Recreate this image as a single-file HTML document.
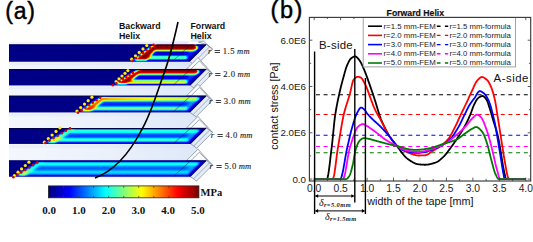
<!DOCTYPE html>
<html><head><meta charset="utf-8"><style>
html,body{margin:0;padding:0;background:#fff;width:533px;height:242px;overflow:hidden;}
svg{display:block;font-family:"Liberation Sans",sans-serif;}
</style></head><body>
<svg width="533" height="242" viewBox="0 0 533 242"><defs><linearGradient id="g0" gradientUnits="userSpaceOnUse" x1="0" y1="44.6" x2="0" y2="61.4"><stop offset="0" stop-color="#06067a"/><stop offset="0.06" stop-color="#06067a"/><stop offset="0.09" stop-color="#800000"/><stop offset="0.16" stop-color="#9a0000"/><stop offset="0.24" stop-color="#d00000"/><stop offset="0.29" stop-color="#ff6000"/><stop offset="0.33" stop-color="#ffe000"/><stop offset="0.37" stop-color="#40ffc0"/><stop offset="0.41" stop-color="#00a0ff"/><stop offset="0.47" stop-color="#0030f0"/><stop offset="0.55" stop-color="#0000a8"/><stop offset="0.61" stop-color="#0010c8"/><stop offset="0.66" stop-color="#0080ff"/><stop offset="0.7" stop-color="#30f0d0"/><stop offset="0.74" stop-color="#ffe000"/><stop offset="0.775" stop-color="#ff9000"/><stop offset="0.8" stop-color="#ffe000"/><stop offset="0.83" stop-color="#40e0ff"/><stop offset="0.86" stop-color="#0030d0"/><stop offset="0.9" stop-color="#06067a"/><stop offset="1" stop-color="#06067a"/></linearGradient>
<linearGradient id="g1" gradientUnits="userSpaceOnUse" x1="0" y1="69.1" x2="0" y2="85.3"><stop offset="0" stop-color="#06067a"/><stop offset="0.06" stop-color="#06067a"/><stop offset="0.09" stop-color="#900000"/><stop offset="0.14" stop-color="#d00000"/><stop offset="0.21" stop-color="#f02000"/><stop offset="0.25" stop-color="#ff7000"/><stop offset="0.28" stop-color="#ffe000"/><stop offset="0.33" stop-color="#40ffd0"/><stop offset="0.4" stop-color="#0070ff"/><stop offset="0.5" stop-color="#0028d0"/><stop offset="0.6" stop-color="#0030e0"/><stop offset="0.65" stop-color="#0080ff"/><stop offset="0.69" stop-color="#30f0d0"/><stop offset="0.75" stop-color="#ffe000"/><stop offset="0.8" stop-color="#ff8000"/><stop offset="0.83" stop-color="#ff3000"/><stop offset="0.86" stop-color="#c0a000"/><stop offset="0.89" stop-color="#0050e0"/><stop offset="0.93" stop-color="#06067a"/><stop offset="1" stop-color="#06067a"/></linearGradient>
<linearGradient id="g2" gradientUnits="userSpaceOnUse" x1="0" y1="95.8" x2="0" y2="112.3"><stop offset="0" stop-color="#06067a"/><stop offset="0.07" stop-color="#06067a"/><stop offset="0.1" stop-color="#1030c0"/><stop offset="0.13" stop-color="#f07000"/><stop offset="0.18" stop-color="#ffa000"/><stop offset="0.24" stop-color="#ffe000"/><stop offset="0.3" stop-color="#60ffa0"/><stop offset="0.36" stop-color="#00c0ff"/><stop offset="0.44" stop-color="#0050ff"/><stop offset="0.55" stop-color="#0040f0"/><stop offset="0.64" stop-color="#0070ff"/><stop offset="0.7" stop-color="#20e0e0"/><stop offset="0.76" stop-color="#d0ff30"/><stop offset="0.8" stop-color="#a0ff60"/><stop offset="0.85" stop-color="#00a0ff"/><stop offset="0.9" stop-color="#0010b0"/><stop offset="0.94" stop-color="#06067a"/><stop offset="1" stop-color="#06067a"/></linearGradient>
<linearGradient id="g3" gradientUnits="userSpaceOnUse" x1="0" y1="127.9" x2="0" y2="143.7"><stop offset="0" stop-color="#06067a"/><stop offset="0.08" stop-color="#06067a"/><stop offset="0.12" stop-color="#0040ff"/><stop offset="0.17" stop-color="#40ffc0"/><stop offset="0.21" stop-color="#a0ff60"/><stop offset="0.26" stop-color="#20e0f0"/><stop offset="0.33" stop-color="#0080ff"/><stop offset="0.45" stop-color="#0060ff"/><stop offset="0.58" stop-color="#0070ff"/><stop offset="0.66" stop-color="#00d0ff"/><stop offset="0.73" stop-color="#90ff70"/><stop offset="0.78" stop-color="#a0ff60"/><stop offset="0.84" stop-color="#00b0ff"/><stop offset="0.89" stop-color="#0020c0"/><stop offset="0.93" stop-color="#06067a"/><stop offset="1" stop-color="#06067a"/></linearGradient>
<linearGradient id="g4" gradientUnits="userSpaceOnUse" x1="0" y1="160.6" x2="0" y2="176.6"><stop offset="0" stop-color="#06067a"/><stop offset="0.06" stop-color="#06067a"/><stop offset="0.11" stop-color="#0040f0"/><stop offset="0.18" stop-color="#00e0ff"/><stop offset="0.24" stop-color="#00d0ff"/><stop offset="0.32" stop-color="#0098ff"/><stop offset="0.45" stop-color="#0070ff"/><stop offset="0.58" stop-color="#0078ff"/><stop offset="0.66" stop-color="#00d8ff"/><stop offset="0.72" stop-color="#00b0ff"/><stop offset="0.78" stop-color="#0040e0"/><stop offset="0.86" stop-color="#0a0a90"/><stop offset="0.92" stop-color="#06067a"/><stop offset="1" stop-color="#06067a"/></linearGradient>
<linearGradient id="jet" x1="0" y1="0" x2="1" y2="0"><stop offset="0" stop-color="#00007a"/><stop offset="0.14" stop-color="#0000ff"/><stop offset="0.38" stop-color="#00ffff"/><stop offset="0.62" stop-color="#ffff00"/><stop offset="0.86" stop-color="#ff0000"/><stop offset="1" stop-color="#7a0000"/></linearGradient>
<linearGradient id="fade" x1="0" y1="0" x2="1" y2="0"><stop offset="0" stop-color="#0010c0" stop-opacity="0"/><stop offset="0.5" stop-color="#0018d0" stop-opacity="0.8"/><stop offset="1" stop-color="#06067a" stop-opacity="1"/></linearGradient>
<linearGradient id="front" x1="0" y1="0" x2="1" y2="0"><stop offset="0" stop-color="#f4f7fd"/><stop offset="0.5" stop-color="#ebf1fb"/><stop offset="1" stop-color="#dde8f8"/></linearGradient>
<filter id="soft" x="-5%" y="-20%" width="110%" height="140%"><feGaussianBlur stdDeviation="0.45"/></filter>
<filter id="jetf" x="-2%" y="-10%" width="104%" height="120%" color-interpolation-filters="sRGB"><feGaussianBlur stdDeviation="1.1"/><feComponentTransfer><feFuncR type="table" tableValues="0 0 0 0 0.5 1 1 1 0.5"/><feFuncG type="table" tableValues="0 0 0.5 1 1 1 0.5 0 0"/><feFuncB type="table" tableValues="0.53 1 1 1 0.5 0 0 0 0"/></feComponentTransfer></filter></defs>
<rect x="0" y="0" width="533" height="242" fill="#ffffff"/>
<polygon points="9.0,41.4 207.1,41.4 198.0,34.1 186.5,44.6 9.0,44.6" fill="url(#front)"/>
<polygon points="9.0,61.4 196.3,61.4 198.0,58.6 186.5,69.1 9.0,69.1" fill="url(#front)"/>
<polygon points="9.0,85.3 196.9,85.3 198.0,85.3 186.5,95.8 9.0,95.8" fill="url(#front)"/>
<polygon points="9.0,112.3 196.6,112.3 198.0,117.4 186.5,127.9 9.0,127.9" fill="url(#front)"/>
<polygon points="9.0,143.7 197.3,143.7 198.0,150.1 186.5,160.6 9.0,160.6" fill="url(#front)"/>
<polygon points="9.0,176.6 195.1,176.6 195.1,178.2 9.0,178.2" fill="url(#front)"/>
<polygon points="9.0,62.6 190.9,62.6 194.3,65.6 9.0,65.6" fill="#d6e2f5" opacity="0.3"/>
<polygon points="9.0,86.5 191.5,86.5 194.9,89.5 9.0,89.5" fill="#d6e2f5" opacity="0.3"/>
<polygon points="9.0,113.5 191.2,113.5 194.6,116.5 9.0,116.5" fill="#d6e2f5" opacity="0.3"/>
<polygon points="9.0,144.9 191.9,144.9 195.3,147.9 9.0,147.9" fill="#d6e2f5" opacity="0.3"/>

<polygon points="198.5,42.0 203.5,41.2 212.5,49.1 206.5,44.6" fill="#fbfcfe" stroke="#76828f" stroke-width="0.7"/>
<polygon points="206.5,44.6 212.5,49.1 195.7,65.9 189.7,61.4" fill="#e4ecf7" stroke="#76828f" stroke-width="0.7"/>
<line x1="209.5" y1="46.9" x2="192.7" y2="63.7" stroke="#76828f" stroke-width="0.6"/>
<polygon points="9.0,44.6 206.5,44.6 189.7,61.4 9.0,61.4" fill="#020287"/>
<clipPath id="cp0"><polygon points="9,44.6 206.5,44.6 189.7,61.4 9,61.4"/></clipPath><g clip-path="url(#cp0)"><g filter="url(#jetf)"><rect x="5" y="40.6" width="208.5" height="24.8" fill="#000"/><polygon points="152.9,45.6 201.9,45.6 187.3,60.2 133.8,60.2" fill="rgb(38,38,38)"/><polygon points="155.0,51.4 188.7,51.4 184.3,55.8 149.3,55.8" fill="rgb(8,8,8)"/><polygon points="157.5,42.6 194.6,42.6 197.6,48.5 193.6,50.6 147.1,50.6" fill="rgb(255,255,255)"/><polygon points="139.5,56.4 186.1,56.4 187.3,57.5 186.1,58.6 136.6,58.6" fill="rgb(204,204,204)"/><polygon points="152.6,45.8 159.2,45.8 146.4,60.2 133.8,60.2" fill="rgb(255,255,255)"/></g><line x1="9" y1="45.10" x2="206.5" y2="45.10" stroke="#00004a" stroke-width="1.1"/></g>
<line x1="172.7" y1="61.1" x2="190.5" y2="44.9" stroke="#0a0a3a" stroke-width="0.6" opacity="0.75"/>
<polygon points="186.5,69.1 198.0,57.6 212.5,73.6 206.5,69.1" fill="#fbfcfe" stroke="#76828f" stroke-width="0.7"/>
<polyline points="191.0,69.1 199.3,60.8 208.0,69.6" fill="none" stroke="#76828f" stroke-width="0.7"/>
<polygon points="206.5,69.1 212.5,73.6 196.3,89.8 190.3,85.3" fill="#e4ecf7" stroke="#76828f" stroke-width="0.7"/>
<line x1="209.5" y1="71.4" x2="193.3" y2="87.6" stroke="#76828f" stroke-width="0.6"/>
<polygon points="9.0,69.1 206.5,69.1 190.3,85.3 9.0,85.3" fill="#020287"/>
<clipPath id="cp1"><polygon points="9,69.1 206.5,69.1 190.3,85.3 9,85.3"/></clipPath><g clip-path="url(#cp1)"><g filter="url(#jetf)"><rect x="5" y="65.1" width="208.5" height="24.2" fill="#000"/><polygon points="137.9,70.1 201.9,70.1 187.9,84.1 115.1,84.1" fill="rgb(43,43,43)"/><polygon points="138.8,75.5 189.1,75.5 184.7,79.9 131.6,79.9" fill="rgb(18,18,18)"/><polygon points="143.4,67.1 196.1,67.1 199.1,72.5 195.1,74.2 131.9,74.2" fill="rgb(247,247,247)"/><polygon points="121.4,80.6 186.2,80.6 187.4,81.9 186.2,83.1 117.3,83.1" fill="rgb(224,224,224)"/><polygon points="137.5,70.3 143.7,70.3 126.3,84.1 115.1,84.1" fill="rgb(250,250,250)"/></g><line x1="9" y1="69.60" x2="206.5" y2="69.60" stroke="#00004a" stroke-width="1.1"/></g>
<line x1="173.3" y1="85.0" x2="190.5" y2="69.4" stroke="#0a0a3a" stroke-width="0.6" opacity="0.75"/>
<polygon points="186.5,95.8 198.0,84.3 212.5,100.3 206.5,95.8" fill="#fbfcfe" stroke="#76828f" stroke-width="0.7"/>
<polyline points="191.0,95.8 199.3,87.5 208.0,96.3" fill="none" stroke="#76828f" stroke-width="0.7"/>
<polygon points="206.5,95.8 212.5,100.3 196.0,116.8 190.0,112.3" fill="#e4ecf7" stroke="#76828f" stroke-width="0.7"/>
<line x1="209.5" y1="98.1" x2="193.0" y2="114.6" stroke="#76828f" stroke-width="0.6"/>
<polygon points="9.0,95.8 206.5,95.8 190.0,112.3 9.0,112.3" fill="#020287"/>
<clipPath id="cp2"><polygon points="9,95.8 206.5,95.8 190.0,112.3 9,112.3"/></clipPath><g clip-path="url(#cp2)"><g filter="url(#jetf)"><rect x="5" y="91.8" width="208.5" height="24.5" fill="#000"/><polygon points="102.0,96.8 201.9,96.8 187.6,111.1 80.6,111.1" fill="rgb(66,66,66)"/><polygon points="103.2,101.8 189.5,101.8 184.2,107.1 95.3,107.1" fill="rgb(41,41,41)"/><linearGradient id="tg2" gradientUnits="userSpaceOnUse" x1="98.4" y1="0" x2="196.8" y2="0"><stop offset="0" stop-color="rgb(224,224,224)"/><stop offset="0.45" stop-color="rgb(199,199,199)"/><stop offset="1" stop-color="rgb(173,173,173)"/></linearGradient><polygon points="101.6,97.5 196.8,97.5 199.8,99.0 195.8,100.5 97.2,100.5" fill="url(#tg2)"/><polygon points="87.0,107.3 186.4,107.3 187.6,108.4 186.4,109.5 83.7,109.5" fill="rgb(158,158,158)"/><linearGradient id="dg2" gradientUnits="userSpaceOnUse" x1="0" y1="97.0" x2="0" y2="111.1"><stop offset="0" stop-color="rgb(204,204,204)"/><stop offset="0.55" stop-color="rgb(204,204,204)"/><stop offset="1" stop-color="rgb(235,235,235)"/></linearGradient><polygon points="101.7,97.0 107.7,97.0 90.6,111.1 80.6,111.1" fill="url(#dg2)"/></g><line x1="9" y1="96.30" x2="206.5" y2="96.30" stroke="#00004a" stroke-width="1.1"/></g>
<line x1="173.0" y1="112.0" x2="190.5" y2="96.1" stroke="#0a0a3a" stroke-width="0.6" opacity="0.75"/>
<polygon points="186.5,127.9 198.0,116.4 212.5,132.4 206.5,127.9" fill="#fbfcfe" stroke="#76828f" stroke-width="0.7"/>
<polyline points="191.0,127.9 199.3,119.6 208.0,128.4" fill="none" stroke="#76828f" stroke-width="0.7"/>
<polygon points="206.5,127.9 212.5,132.4 196.7,148.2 190.7,143.7" fill="#e4ecf7" stroke="#76828f" stroke-width="0.7"/>
<line x1="209.5" y1="130.2" x2="193.7" y2="146.0" stroke="#76828f" stroke-width="0.6"/>
<polygon points="9.0,127.9 206.5,127.9 190.7,143.7 9.0,143.7" fill="#020287"/>
<clipPath id="cp3"><polygon points="9,127.9 206.5,127.9 190.7,143.7 9,143.7"/></clipPath><g clip-path="url(#cp3)"><g filter="url(#jetf)"><rect x="5" y="123.9" width="208.5" height="23.8" fill="#000"/><polygon points="69.5,128.9 201.9,128.9 188.3,142.5 46.5,142.5" fill="rgb(69,69,69)"/><polygon points="70.1,133.7 189.7,133.7 184.9,138.5 62.0,138.5" fill="rgb(48,48,48)"/><polygon points="68.5,129.9 196.8,129.9 199.8,131.1 195.8,132.3 64.4,132.3" fill="rgb(138,138,138)"/><polygon points="53.5,138.8 187.0,138.8 188.2,139.9 187.0,141.0 49.8,141.0" fill="rgb(138,138,138)"/><linearGradient id="dg3" gradientUnits="userSpaceOnUse" x1="0" y1="129.1" x2="0" y2="142.5"><stop offset="0" stop-color="rgb(128,128,128)"/><stop offset="0.55" stop-color="rgb(128,128,128)"/><stop offset="1" stop-color="rgb(209,209,209)"/></linearGradient><polygon points="69.1,129.1 74.7,129.1 55.1,142.5 46.5,142.5" fill="url(#dg3)"/></g><line x1="9" y1="128.40" x2="206.5" y2="128.40" stroke="#00004a" stroke-width="1.1"/></g>
<line x1="173.7" y1="143.4" x2="190.5" y2="128.2" stroke="#0a0a3a" stroke-width="0.6" opacity="0.75"/>
<polygon points="186.5,160.6 198.0,149.1 212.5,165.1 206.5,160.6" fill="#fbfcfe" stroke="#76828f" stroke-width="0.7"/>
<polyline points="191.0,160.6 199.3,152.3 208.0,161.1" fill="none" stroke="#76828f" stroke-width="0.7"/>
<polygon points="206.5,160.6 212.5,165.1 196.5,181.1 190.5,176.6" fill="#e4ecf7" stroke="#76828f" stroke-width="0.7"/>
<line x1="209.5" y1="162.9" x2="193.5" y2="178.9" stroke="#76828f" stroke-width="0.6"/>
<polygon points="9.0,160.6 206.5,160.6 190.5,176.6 9.0,176.6" fill="#020287"/>
<clipPath id="cp4"><polygon points="9,160.6 206.5,160.6 190.5,176.6 9,176.6"/></clipPath><g clip-path="url(#cp4)"><g filter="url(#jetf)"><rect x="5" y="156.6" width="208.5" height="24.0" fill="#000"/><polygon points="39.1,161.6 201.9,161.6 188.1,175.4 16.8,175.4" fill="rgb(71,71,71)"/><polygon points="39.7,166.6 189.5,166.6 185.1,171.0 32.6,171.0" fill="rgb(54,54,54)"/><polygon points="38.2,162.6 196.7,162.6 199.7,163.9 195.7,165.2 34.0,165.2" fill="rgb(112,112,112)"/><polygon points="24.9,170.8 187.8,170.8 189.0,171.8 187.8,172.8 21.7,172.8" fill="rgb(102,102,102)"/><linearGradient id="dg4" gradientUnits="userSpaceOnUse" x1="0" y1="161.8" x2="0" y2="175.4"><stop offset="0" stop-color="rgb(107,107,107)"/><stop offset="0.55" stop-color="rgb(107,107,107)"/><stop offset="1" stop-color="rgb(178,178,178)"/></linearGradient><polygon points="38.8,161.8 44.4,161.8 25.4,175.4 16.8,175.4" fill="url(#dg4)"/></g><line x1="9" y1="161.10" x2="206.5" y2="161.10" stroke="#00004a" stroke-width="1.1"/></g>
<line x1="173.5" y1="176.3" x2="190.5" y2="160.9" stroke="#0a0a3a" stroke-width="0.6" opacity="0.75"/>
<circle cx="131.7" cy="59.2" r="1.6" fill="#ffee00"/>
<circle cx="135.5" cy="55.8" r="1.6" fill="#ffee00"/>
<circle cx="139.2" cy="52.4" r="1.6" fill="#ffee00"/>
<circle cx="143.0" cy="48.9" r="1.6" fill="#ffee00"/>
<circle cx="146.8" cy="45.5" r="1.6" fill="#ffee00"/>
<circle cx="132.6" cy="60.9" r="1.3" fill="#e00000"/>
<circle cx="136.1" cy="58.2" r="1.3" fill="#e00000"/>
<circle cx="139.6" cy="55.6" r="1.3" fill="#e00000"/>
<circle cx="143.1" cy="52.9" r="1.3" fill="#e00000"/>
<circle cx="146.5" cy="50.2" r="1.3" fill="#e00000"/>
<circle cx="150.0" cy="47.6" r="1.3" fill="#e00000"/>
<circle cx="153.5" cy="44.9" r="1.3" fill="#e00000"/>
<circle cx="116.1" cy="81.5" r="1.6" fill="#ffee00"/>
<circle cx="119.0" cy="78.8" r="1.6" fill="#ffee00"/>
<circle cx="122.0" cy="76.0" r="1.6" fill="#ffee00"/>
<circle cx="125.0" cy="73.3" r="1.6" fill="#ffee00"/>
<circle cx="127.9" cy="70.6" r="1.6" fill="#ffee00"/>
<circle cx="112.8" cy="85.3" r="1.3" fill="#e00000"/>
<circle cx="116.2" cy="83.2" r="1.3" fill="#e00000"/>
<circle cx="119.5" cy="81.2" r="1.3" fill="#e00000"/>
<circle cx="122.9" cy="79.1" r="1.3" fill="#e00000"/>
<circle cx="126.3" cy="77.0" r="1.3" fill="#e00000"/>
<circle cx="129.6" cy="75.0" r="1.3" fill="#e00000"/>
<circle cx="133.0" cy="72.9" r="1.3" fill="#e00000"/>
<circle cx="77.0" cy="111.0" r="1.6" fill="#ffee00"/>
<circle cx="80.7" cy="107.5" r="1.6" fill="#ffee00"/>
<circle cx="84.5" cy="104.1" r="1.6" fill="#ffee00"/>
<circle cx="88.2" cy="100.7" r="1.6" fill="#ffee00"/>
<circle cx="91.9" cy="97.2" r="1.6" fill="#ffee00"/>
<circle cx="77.9" cy="112.7" r="1.3" fill="#e00000"/>
<circle cx="81.6" cy="110.2" r="1.3" fill="#e00000"/>
<circle cx="85.3" cy="107.7" r="1.3" fill="#e00000"/>
<circle cx="89.1" cy="105.2" r="1.3" fill="#e00000"/>
<circle cx="92.8" cy="102.8" r="1.3" fill="#e00000"/>
<circle cx="96.5" cy="100.3" r="1.3" fill="#e00000"/>
<circle cx="100.2" cy="97.8" r="1.3" fill="#e00000"/>
<circle cx="44.4" cy="142.2" r="1.6" fill="#ffee00"/>
<circle cx="48.3" cy="138.6" r="1.6" fill="#ffee00"/>
<circle cx="52.1" cy="135.0" r="1.6" fill="#ffee00"/>
<circle cx="56.0" cy="131.4" r="1.6" fill="#ffee00"/>
<circle cx="59.9" cy="127.8" r="1.6" fill="#ffee00"/>
<circle cx="45.4" cy="143.0" r="1.3" fill="#e00000"/>
<circle cx="49.5" cy="140.6" r="1.3" fill="#e00000"/>
<circle cx="53.6" cy="138.1" r="1.3" fill="#e00000"/>
<circle cx="57.7" cy="135.7" r="1.3" fill="#e00000"/>
<circle cx="61.8" cy="133.3" r="1.3" fill="#e00000"/>
<circle cx="65.9" cy="130.8" r="1.3" fill="#e00000"/>
<circle cx="70.0" cy="128.4" r="1.3" fill="#e00000"/>
<circle cx="14.4" cy="175.6" r="1.6" fill="#ffee00"/>
<circle cx="18.0" cy="172.2" r="1.6" fill="#ffee00"/>
<circle cx="21.6" cy="168.9" r="1.6" fill="#ffee00"/>
<circle cx="25.3" cy="165.5" r="1.6" fill="#ffee00"/>
<circle cx="28.9" cy="162.2" r="1.6" fill="#ffee00"/>
<circle cx="13.4" cy="177.3" r="1.3" fill="#e00000"/>
<circle cx="17.4" cy="174.9" r="1.3" fill="#e00000"/>
<circle cx="21.3" cy="172.4" r="1.3" fill="#e00000"/>
<circle cx="25.3" cy="169.9" r="1.3" fill="#e00000"/>
<circle cx="29.3" cy="167.5" r="1.3" fill="#e00000"/>
<circle cx="33.2" cy="165.1" r="1.3" fill="#e00000"/>
<circle cx="37.2" cy="162.6" r="1.3" fill="#e00000"/>
<path d="M178,22 C174,40 170,58 163,76 C156,96 150,116 141,131 C130,152 116,170 95,178" fill="none" stroke="#000" stroke-width="1.6"/>
<text x="5.3" y="18.6" letter-spacing="0.8" font-family="Liberation Sans" font-size="23" fill="#000" stroke="#000" stroke-width="0.45">(a)</text>
<text x="270.6" y="17.7" letter-spacing="1.5" font-family="Liberation Sans" font-size="23.5" fill="#000" stroke="#000" stroke-width="0.45">(b)</text>
<text font-family="Liberation Sans" font-weight="bold" font-size="8.8" fill="#111"><tspan x="119" y="29.3">Backward</tspan><tspan x="119" y="39.1">Helix</tspan></text>
<text font-family="Liberation Sans" font-weight="bold" font-size="8.8" fill="#111"><tspan x="190.5" y="29.3">Forward</tspan><tspan x="190.5" y="39.1">Helix</tspan></text>
<g font-family="Liberation Serif" font-size="8.6" fill="#1e1e1e" stroke="#1e1e1e" stroke-width="0.12"><text x="207.9" y="54.4" font-style="italic">r</text><rect x="214.7" y="50" width="5.3" height="1" stroke="none" opacity="0.85"/><rect x="214.7" y="52" width="5.3" height="1" stroke="none" opacity="0.85"/><text x="222.7" y="54.4" letter-spacing="0.55">1.5</text><text x="237.1" y="54.4" font-style="italic" letter-spacing="0.1">mm</text></g>
<g font-family="Liberation Serif" font-size="8.6" fill="#1e1e1e" stroke="#1e1e1e" stroke-width="0.12"><text x="208.4" y="76.8" font-style="italic">r</text><rect x="215.2" y="73" width="5.3" height="1" stroke="none" opacity="0.85"/><rect x="215.2" y="75" width="5.3" height="1" stroke="none" opacity="0.85"/><text x="223.2" y="76.8" letter-spacing="0.55">2.0</text><text x="237.6" y="76.8" font-style="italic" letter-spacing="0.1">mm</text></g>
<g font-family="Liberation Serif" font-size="8.6" fill="#1e1e1e" stroke="#1e1e1e" stroke-width="0.12"><text x="209.0" y="103.8" font-style="italic">r</text><rect x="215.8" y="100" width="5.3" height="1" stroke="none" opacity="0.85"/><rect x="215.8" y="102" width="5.3" height="1" stroke="none" opacity="0.85"/><text x="223.8" y="103.8" letter-spacing="0.55">3.0</text><text x="238.2" y="103.8" font-style="italic" letter-spacing="0.1">mm</text></g>
<g font-family="Liberation Serif" font-size="8.6" fill="#1e1e1e" stroke="#1e1e1e" stroke-width="0.12"><text x="210.7" y="137.9" font-style="italic">r</text><rect x="217.5" y="134" width="5.3" height="1" stroke="none" opacity="0.85"/><rect x="217.5" y="136" width="5.3" height="1" stroke="none" opacity="0.85"/><text x="225.5" y="137.9" letter-spacing="0.55">4.0</text><text x="239.9" y="137.9" font-style="italic" letter-spacing="0.1">mm</text></g>
<g font-family="Liberation Serif" font-size="8.6" fill="#1e1e1e" stroke="#1e1e1e" stroke-width="0.12"><text x="209.6" y="169.2" font-style="italic">r</text><rect x="216.4" y="165" width="5.3" height="1" stroke="none" opacity="0.85"/><rect x="216.4" y="167" width="5.3" height="1" stroke="none" opacity="0.85"/><text x="224.4" y="169.2" letter-spacing="0.55">5.0</text><text x="238.8" y="169.2" font-style="italic" letter-spacing="0.1">mm</text></g>
<rect x="48.4" y="185.9" width="150.5" height="11.9" fill="url(#jet)" stroke="#222" stroke-width="0.8"/>
<line x1="63.5" y1="186" x2="63.5" y2="187.8" stroke="#333" stroke-width="0.7"/><line x1="63.5" y1="195.9" x2="63.5" y2="197.7" stroke="#333" stroke-width="0.7"/>
<line x1="78.5" y1="186" x2="78.5" y2="187.8" stroke="#333" stroke-width="0.7"/><line x1="78.5" y1="195.9" x2="78.5" y2="197.7" stroke="#333" stroke-width="0.7"/>
<line x1="93.6" y1="186" x2="93.6" y2="187.8" stroke="#333" stroke-width="0.7"/><line x1="93.6" y1="195.9" x2="93.6" y2="197.7" stroke="#333" stroke-width="0.7"/>
<line x1="108.6" y1="186" x2="108.6" y2="187.8" stroke="#333" stroke-width="0.7"/><line x1="108.6" y1="195.9" x2="108.6" y2="197.7" stroke="#333" stroke-width="0.7"/>
<line x1="123.7" y1="186" x2="123.7" y2="187.8" stroke="#333" stroke-width="0.7"/><line x1="123.7" y1="195.9" x2="123.7" y2="197.7" stroke="#333" stroke-width="0.7"/>
<line x1="138.7" y1="186" x2="138.7" y2="187.8" stroke="#333" stroke-width="0.7"/><line x1="138.7" y1="195.9" x2="138.7" y2="197.7" stroke="#333" stroke-width="0.7"/>
<line x1="153.8" y1="186" x2="153.8" y2="187.8" stroke="#333" stroke-width="0.7"/><line x1="153.8" y1="195.9" x2="153.8" y2="197.7" stroke="#333" stroke-width="0.7"/>
<line x1="168.8" y1="186" x2="168.8" y2="187.8" stroke="#333" stroke-width="0.7"/><line x1="168.8" y1="195.9" x2="168.8" y2="197.7" stroke="#333" stroke-width="0.7"/>
<line x1="183.9" y1="186" x2="183.9" y2="187.8" stroke="#333" stroke-width="0.7"/><line x1="183.9" y1="195.9" x2="183.9" y2="197.7" stroke="#333" stroke-width="0.7"/>
<text x="200.6" y="196" font-family="Liberation Serif" font-weight="bold" font-size="10.5" fill="#111">MPa</text>
<text x="49.1" y="214.3" text-anchor="middle" font-family="Liberation Serif" font-weight="bold" font-size="11" fill="#111">0.0</text>
<text x="78.8" y="214.3" text-anchor="middle" font-family="Liberation Serif" font-weight="bold" font-size="11" fill="#111">1.0</text>
<text x="108.6" y="214.3" text-anchor="middle" font-family="Liberation Serif" font-weight="bold" font-size="11" fill="#111">2.0</text>
<text x="138.3" y="214.3" text-anchor="middle" font-family="Liberation Serif" font-weight="bold" font-size="11" fill="#111">3.0</text>
<text x="168.1" y="214.3" text-anchor="middle" font-family="Liberation Serif" font-weight="bold" font-size="11" fill="#111">4.0</text>
<text x="197.8" y="214.3" text-anchor="middle" font-family="Liberation Serif" font-weight="bold" font-size="11" fill="#111">5.0</text>
<line x1="315.9" y1="94.7" x2="530.5" y2="94.7" stroke="#000000" stroke-width="1.1" stroke-dasharray="4 3.7"/>
<line x1="315.9" y1="114.5" x2="530.5" y2="114.5" stroke="#ff0000" stroke-width="1.1" stroke-dasharray="4 3.7"/>
<line x1="315.9" y1="135.3" x2="530.5" y2="135.3" stroke="#0000ff" stroke-width="1.1" stroke-dasharray="4 3.7"/>
<line x1="315.9" y1="146.5" x2="530.5" y2="146.5" stroke="#ff00ff" stroke-width="1.1" stroke-dasharray="4 3.7"/>
<line x1="315.9" y1="152.7" x2="530.5" y2="152.7" stroke="#007a00" stroke-width="1.1" stroke-dasharray="4 3.7"/>
<path d="M314.20,179.10 L314.55,179.10 L314.91,179.10 L315.26,179.10 L315.61,179.10 L315.97,179.10 L316.32,179.10 L316.67,179.10 L317.03,179.10 L317.38,179.10 L317.73,179.10 L318.09,179.10 L318.44,179.10 L318.79,179.10 L319.15,179.10 L319.50,179.10 L319.85,179.10 L320.21,179.10 L320.56,179.10 L320.91,179.10 L321.27,179.10 L321.62,179.10 L321.97,179.10 L322.32,179.10 L322.68,179.10 L323.03,179.10 L323.38,179.10 L323.74,179.10 L324.09,179.10 L324.44,179.10 L324.80,179.10 L325.15,179.10 L325.50,179.10 L325.86,179.10 L326.21,179.10 L326.56,179.10 L326.92,179.06 L327.27,178.57 L327.62,177.55 L327.98,176.08 L328.33,174.19 L328.68,171.97 L329.04,169.45 L329.39,166.71 L329.74,163.80 L330.10,160.78 L330.45,157.71 L330.80,154.64 L331.16,151.64 L331.51,148.77 L331.86,145.97 L332.22,142.88 L332.57,139.54 L332.92,136.02 L333.28,132.41 L333.63,128.81 L333.98,125.30 L334.34,121.96 L334.69,118.89 L335.04,116.17 L335.40,113.81 L335.75,111.60 L336.10,109.50 L336.46,107.51 L336.81,105.61 L337.16,103.80 L337.51,102.05 L337.87,100.35 L338.22,98.70 L338.57,97.08 L338.93,95.47 L339.28,93.86 L339.63,92.29 L339.99,90.75 L340.34,89.25 L340.69,87.78 L341.05,86.34 L341.40,84.94 L341.75,83.56 L342.11,82.21 L342.46,80.88 L342.81,79.57 L343.17,78.29 L343.52,77.00 L343.87,75.70 L344.23,74.40 L344.58,73.12 L344.93,71.86 L345.29,70.63 L345.64,69.45 L345.99,68.33 L346.35,67.28 L346.70,66.31 L347.05,65.44 L347.41,64.64 L347.76,63.86 L348.11,63.10 L348.47,62.37 L348.82,61.66 L349.17,61.00 L349.53,60.38 L349.88,59.81 L350.23,59.30 L350.59,58.86 L350.94,58.50 L351.29,58.21 L351.65,57.96 L352.00,57.71 L352.35,57.47 L352.70,57.25 L353.06,57.05 L353.41,56.87 L353.76,56.71 L354.12,56.59 L354.47,56.49 L354.82,56.43 L355.18,56.41 L355.53,56.44 L355.88,56.56 L356.24,56.75 L356.59,57.01 L356.94,57.32 L357.30,57.67 L357.65,58.05 L358.00,58.46 L358.36,58.89 L358.71,59.32 L359.06,59.76 L359.42,60.20 L359.77,60.70 L360.12,61.25 L360.48,61.86 L360.83,62.51 L361.18,63.20 L361.54,63.92 L361.89,64.67 L362.24,65.43 L362.60,66.21 L362.95,66.99 L363.30,67.77 L363.66,68.56 L364.01,69.37 L364.36,70.21 L364.72,71.08 L365.07,71.97 L365.42,72.88 L365.78,73.81 L366.13,74.75 L366.48,75.71 L366.84,76.68 L367.19,77.66 L367.54,78.65 L367.89,79.65 L368.25,80.65 L368.60,81.65 L368.95,82.65 L369.31,83.65 L369.66,84.64 L370.01,85.64 L370.37,86.64 L370.72,87.65 L371.07,88.67 L371.43,89.69 L371.78,90.73 L372.13,91.77 L372.49,92.82 L372.84,93.87 L373.19,94.92 L373.55,95.99 L373.90,97.05 L374.25,98.12 L374.61,99.20 L374.96,100.28 L375.31,101.39 L375.67,102.53 L376.02,103.69 L376.37,104.87 L376.73,106.07 L377.08,107.26 L377.43,108.46 L377.79,109.65 L378.14,110.83 L378.49,112.00 L378.85,113.14 L379.20,114.25 L379.55,115.33 L379.91,116.37 L380.26,117.36 L380.61,118.30 L380.97,119.18 L381.32,120.04 L381.67,120.89 L382.03,121.72 L382.38,122.53 L382.73,123.34 L383.08,124.12 L383.44,124.90 L383.79,125.66 L384.14,126.40 L384.50,127.13 L384.85,127.85 L385.20,128.56 L385.56,129.26 L385.91,129.94 L386.26,130.61 L386.62,131.27 L386.97,131.91 L387.32,132.55 L387.68,133.17 L388.03,133.79 L388.38,134.39 L388.74,134.98 L389.09,135.57 L389.44,136.14 L389.80,136.70 L390.15,137.26 L390.50,137.80 L390.86,138.32 L391.21,138.84 L391.56,139.34 L391.92,139.82 L392.27,140.30 L392.62,140.77 L392.98,141.22 L393.33,141.68 L393.68,142.12 L394.04,142.56 L394.39,143.00 L394.74,143.43 L395.10,143.86 L395.45,144.29 L395.80,144.73 L396.16,145.16 L396.51,145.60 L396.86,146.04 L397.22,146.48 L397.57,146.94 L397.92,147.40 L398.27,147.86 L398.63,148.33 L398.98,148.81 L399.33,149.28 L399.69,149.76 L400.04,150.24 L400.39,150.71 L400.75,151.19 L401.10,151.66 L401.45,152.13 L401.81,152.60 L402.16,153.06 L402.51,153.51 L402.87,153.96 L403.22,154.40 L403.57,154.83 L403.93,155.25 L404.28,155.66 L404.63,156.05 L404.99,156.44 L405.34,156.81 L405.69,157.16 L406.05,157.50 L406.40,157.83 L406.75,158.13 L407.11,158.42 L407.46,158.69 L407.81,158.94 L408.17,159.20 L408.52,159.45 L408.87,159.70 L409.23,159.95 L409.58,160.20 L409.93,160.44 L410.29,160.68 L410.64,160.92 L410.99,161.15 L411.35,161.38 L411.70,161.60 L412.05,161.82 L412.41,162.03 L412.76,162.24 L413.11,162.44 L413.46,162.63 L413.82,162.81 L414.17,162.99 L414.52,163.16 L414.88,163.31 L415.23,163.46 L415.58,163.60 L415.94,163.73 L416.29,163.85 L416.64,163.95 L417.00,164.05 L417.35,164.13 L417.70,164.20 L418.06,164.25 L418.41,164.30 L418.76,164.33 L419.12,164.37 L419.47,164.41 L419.82,164.44 L420.18,164.48 L420.53,164.51 L420.88,164.54 L421.24,164.57 L421.59,164.60 L421.94,164.62 L422.30,164.65 L422.65,164.67 L423.00,164.69 L423.36,164.70 L423.71,164.72 L424.06,164.73 L424.42,164.74 L424.77,164.74 L425.12,164.75 L425.48,164.75 L425.83,164.74 L426.18,164.72 L426.54,164.70 L426.89,164.68 L427.24,164.64 L427.59,164.60 L427.95,164.56 L428.30,164.50 L428.65,164.45 L429.01,164.39 L429.36,164.32 L429.71,164.25 L430.07,164.17 L430.42,164.09 L430.77,164.00 L431.13,163.91 L431.48,163.82 L431.83,163.72 L432.19,163.62 L432.54,163.52 L432.89,163.41 L433.25,163.31 L433.60,163.19 L433.95,163.08 L434.31,162.96 L434.66,162.85 L435.01,162.73 L435.37,162.61 L435.72,162.48 L436.07,162.36 L436.43,162.21 L436.78,162.05 L437.13,161.87 L437.49,161.68 L437.84,161.47 L438.19,161.24 L438.55,161.00 L438.90,160.75 L439.25,160.48 L439.61,160.21 L439.96,159.92 L440.31,159.63 L440.67,159.32 L441.02,159.01 L441.37,158.70 L441.73,158.37 L442.08,158.05 L442.43,157.72 L442.78,157.38 L443.14,157.05 L443.49,156.71 L443.84,156.38 L444.20,156.03 L444.55,155.66 L444.90,155.27 L445.26,154.86 L445.61,154.45 L445.96,154.02 L446.32,153.57 L446.67,153.12 L447.02,152.66 L447.38,152.20 L447.73,151.73 L448.08,151.27 L448.44,150.80 L448.79,150.33 L449.14,149.87 L449.50,149.40 L449.85,148.94 L450.20,148.47 L450.56,147.99 L450.91,147.51 L451.26,147.03 L451.62,146.55 L451.97,146.06 L452.32,145.57 L452.68,145.07 L453.03,144.57 L453.38,144.07 L453.74,143.57 L454.09,143.06 L454.44,142.55 L454.80,142.03 L455.15,141.52 L455.50,141.00 L455.86,140.48 L456.21,139.95 L456.56,139.42 L456.92,138.89 L457.27,138.36 L457.62,137.83 L457.97,137.30 L458.33,136.77 L458.68,136.23 L459.03,135.69 L459.39,135.15 L459.74,134.61 L460.09,134.06 L460.45,133.50 L460.80,132.94 L461.15,132.38 L461.51,131.80 L461.86,131.23 L462.21,130.64 L462.57,130.05 L462.92,129.44 L463.27,128.84 L463.63,128.22 L463.98,127.59 L464.33,126.95 L464.69,126.30 L465.04,125.65 L465.39,124.98 L465.75,124.30 L466.10,123.62 L466.45,122.92 L466.81,122.22 L467.16,121.50 L467.51,120.77 L467.87,120.03 L468.22,119.28 L468.57,118.52 L468.93,117.75 L469.28,116.97 L469.63,116.17 L469.99,115.37 L470.34,114.55 L470.69,113.67 L471.05,112.73 L471.40,111.76 L471.75,110.76 L472.11,109.75 L472.46,108.75 L472.81,107.78 L473.16,106.85 L473.52,105.99 L473.87,105.20 L474.22,104.48 L474.58,103.76 L474.93,103.05 L475.28,102.35 L475.64,101.67 L475.99,101.02 L476.34,100.41 L476.70,99.84 L477.05,99.32 L477.40,98.86 L477.76,98.46 L478.11,98.14 L478.46,97.87 L478.82,97.61 L479.17,97.35 L479.52,97.11 L479.88,96.88 L480.23,96.67 L480.58,96.49 L480.94,96.33 L481.29,96.19 L481.64,96.09 L482.00,96.02 L482.35,95.99 L482.70,96.02 L483.06,96.11 L483.41,96.28 L483.76,96.51 L484.12,96.79 L484.47,97.13 L484.82,97.51 L485.18,97.92 L485.53,98.37 L485.88,98.84 L486.24,99.33 L486.59,99.83 L486.94,100.41 L487.30,101.17 L487.65,102.07 L488.00,103.08 L488.35,104.16 L488.71,105.27 L489.06,106.38 L489.41,107.45 L489.77,108.55 L490.12,109.69 L490.47,110.86 L490.83,112.06 L491.18,113.29 L491.53,114.52 L491.89,115.76 L492.24,116.99 L492.59,118.21 L492.95,119.42 L493.30,120.60 L493.65,121.74 L494.01,122.85 L494.36,123.96 L494.71,125.05 L495.07,126.15 L495.42,127.26 L495.77,128.39 L496.13,129.55 L496.48,130.75 L496.83,132.00 L497.19,133.30 L497.54,134.67 L497.89,136.12 L498.25,137.71 L498.60,139.44 L498.95,141.29 L499.31,143.24 L499.66,145.28 L500.01,147.39 L500.37,149.56 L500.72,151.76 L501.07,153.98 L501.43,156.21 L501.78,158.42 L502.13,160.61 L502.49,162.74 L502.84,164.82 L503.19,166.81 L503.54,168.70 L503.90,170.48 L504.25,172.13 L504.60,173.63 L504.96,175.14 L505.31,176.72 L505.66,178.08 L506.02,178.94 L506.37,179.10 L506.72,179.10 L507.08,179.10 L507.43,179.10 L507.78,179.10 L508.14,179.10 L508.49,179.10 L508.84,179.10 L509.20,179.10 L509.55,179.10 L509.90,179.10 L510.26,179.10 L510.61,179.10 L510.96,179.10 L511.32,179.10 L511.67,179.10 L512.02,179.10 L512.38,179.10 L512.73,179.10 L513.08,179.10 L513.44,179.10 L513.79,179.10 L514.14,179.10 L514.50,179.10 L514.85,179.10 L515.20,179.10 L515.56,179.10 L515.91,179.10 L516.26,179.10 L516.62,179.10 L516.97,179.10 L517.32,179.10 L517.68,179.10 L518.03,179.10 L518.38,179.10 L518.73,179.10 L519.09,179.10 L519.44,179.10 L519.79,179.10 L520.15,179.10 L520.50,179.10 L520.85,179.10 L521.21,179.10 L521.56,179.10 L521.91,179.10 L522.27,179.10 L522.62,179.10 L522.97,179.10 L523.33,179.10 L523.68,179.10 L524.03,179.10 L524.39,179.10 L524.74,179.10 L525.09,179.10 L525.45,179.10 L525.80,179.10" fill="none" stroke="#000000" stroke-width="1.8" stroke-linejoin="round"/>
<path d="M314.20,179.10 L314.55,179.10 L314.91,179.10 L315.26,179.10 L315.61,179.10 L315.97,179.10 L316.32,179.10 L316.67,179.10 L317.03,179.10 L317.38,179.10 L317.73,179.10 L318.09,179.10 L318.44,179.10 L318.79,179.10 L319.15,179.10 L319.50,179.10 L319.85,179.10 L320.21,179.10 L320.56,179.10 L320.91,179.10 L321.27,179.10 L321.62,179.10 L321.97,179.10 L322.32,179.10 L322.68,179.10 L323.03,179.10 L323.38,179.10 L323.74,179.10 L324.09,179.10 L324.44,179.10 L324.80,179.10 L325.15,179.10 L325.50,179.10 L325.86,179.10 L326.21,179.10 L326.56,179.10 L326.92,179.10 L327.27,179.10 L327.62,179.10 L327.98,179.10 L328.33,179.10 L328.68,179.10 L329.04,179.10 L329.39,179.10 L329.74,179.10 L330.10,179.10 L330.45,179.10 L330.80,179.10 L331.16,179.10 L331.51,179.10 L331.86,179.10 L332.22,179.10 L332.57,179.10 L332.92,178.95 L333.28,178.29 L333.63,177.17 L333.98,175.63 L334.34,173.75 L334.69,171.56 L335.04,169.14 L335.40,166.54 L335.75,163.81 L336.10,161.02 L336.46,158.23 L336.81,155.48 L337.16,152.84 L337.51,150.36 L337.87,148.11 L338.22,146.04 L338.57,143.93 L338.93,141.79 L339.28,139.62 L339.63,137.45 L339.99,135.27 L340.34,133.10 L340.69,130.95 L341.05,128.83 L341.40,126.74 L341.75,124.71 L342.11,122.73 L342.46,120.82 L342.81,118.99 L343.17,117.25 L343.52,115.61 L343.87,114.07 L344.23,112.63 L344.58,111.26 L344.93,109.95 L345.29,108.70 L345.64,107.50 L345.99,106.33 L346.35,105.20 L346.70,104.10 L347.05,103.01 L347.41,101.92 L347.76,100.84 L348.11,99.75 L348.47,98.64 L348.82,97.51 L349.17,96.35 L349.53,95.15 L349.88,93.90 L350.23,92.50 L350.59,90.99 L350.94,89.39 L351.29,87.77 L351.65,86.17 L352.00,84.63 L352.35,83.20 L352.70,81.93 L353.06,80.85 L353.41,80.03 L353.76,79.50 L354.12,79.10 L354.47,78.72 L354.82,78.36 L355.18,78.03 L355.53,77.73 L355.88,77.47 L356.24,77.24 L356.59,77.05 L356.94,76.91 L357.30,76.82 L357.65,76.78 L358.00,76.79 L358.36,76.82 L358.71,76.88 L359.06,76.96 L359.42,77.05 L359.77,77.17 L360.12,77.29 L360.48,77.43 L360.83,77.59 L361.18,77.84 L361.54,78.17 L361.89,78.58 L362.24,79.05 L362.60,79.58 L362.95,80.17 L363.30,80.79 L363.66,81.45 L364.01,82.13 L364.36,82.82 L364.72,83.52 L365.07,84.22 L365.42,84.91 L365.78,85.62 L366.13,86.39 L366.48,87.21 L366.84,88.07 L367.19,88.97 L367.54,89.91 L367.89,90.87 L368.25,91.85 L368.60,92.85 L368.95,93.85 L369.31,94.86 L369.66,95.86 L370.01,96.85 L370.37,97.83 L370.72,98.78 L371.07,99.71 L371.43,100.64 L371.78,101.58 L372.13,102.52 L372.49,103.47 L372.84,104.41 L373.19,105.33 L373.55,106.23 L373.90,107.10 L374.25,107.93 L374.61,108.71 L374.96,109.46 L375.31,110.19 L375.67,110.90 L376.02,111.60 L376.37,112.27 L376.73,112.93 L377.08,113.58 L377.43,114.22 L377.79,114.85 L378.14,115.47 L378.49,116.09 L378.85,116.70 L379.20,117.31 L379.55,117.92 L379.91,118.54 L380.26,119.16 L380.61,119.79 L380.97,120.42 L381.32,121.07 L381.67,121.73 L382.03,122.39 L382.38,123.07 L382.73,123.75 L383.08,124.44 L383.44,125.14 L383.79,125.83 L384.14,126.53 L384.50,127.23 L384.85,127.93 L385.20,128.62 L385.56,129.31 L385.91,129.99 L386.26,130.67 L386.62,131.34 L386.97,132.00 L387.32,132.65 L387.68,133.28 L388.03,133.90 L388.38,134.51 L388.74,135.10 L389.09,135.67 L389.44,136.22 L389.80,136.75 L390.15,137.25 L390.50,137.75 L390.86,138.24 L391.21,138.72 L391.56,139.20 L391.92,139.67 L392.27,140.14 L392.62,140.60 L392.98,141.05 L393.33,141.50 L393.68,141.94 L394.04,142.37 L394.39,142.79 L394.74,143.20 L395.10,143.60 L395.45,143.99 L395.80,144.37 L396.16,144.74 L396.51,145.10 L396.86,145.45 L397.22,145.78 L397.57,146.10 L397.92,146.41 L398.27,146.71 L398.63,146.99 L398.98,147.26 L399.33,147.52 L399.69,147.78 L400.04,148.03 L400.39,148.28 L400.75,148.53 L401.10,148.77 L401.45,149.00 L401.81,149.23 L402.16,149.46 L402.51,149.68 L402.87,149.90 L403.22,150.11 L403.57,150.32 L403.93,150.52 L404.28,150.72 L404.63,150.92 L404.99,151.11 L405.34,151.30 L405.69,151.48 L406.05,151.65 L406.40,151.83 L406.75,152.00 L407.11,152.16 L407.46,152.32 L407.81,152.47 L408.17,152.62 L408.52,152.77 L408.87,152.91 L409.23,153.05 L409.58,153.18 L409.93,153.31 L410.29,153.43 L410.64,153.55 L410.99,153.68 L411.35,153.80 L411.70,153.93 L412.05,154.05 L412.41,154.18 L412.76,154.30 L413.11,154.42 L413.46,154.54 L413.82,154.66 L414.17,154.77 L414.52,154.87 L414.88,154.97 L415.23,155.06 L415.58,155.15 L415.94,155.22 L416.29,155.29 L416.64,155.35 L417.00,155.40 L417.35,155.44 L417.70,155.47 L418.06,155.48 L418.41,155.49 L418.76,155.49 L419.12,155.48 L419.47,155.48 L419.82,155.48 L420.18,155.47 L420.53,155.46 L420.88,155.45 L421.24,155.44 L421.59,155.43 L421.94,155.42 L422.30,155.41 L422.65,155.39 L423.00,155.38 L423.36,155.36 L423.71,155.35 L424.06,155.33 L424.42,155.31 L424.77,155.29 L425.12,155.27 L425.48,155.24 L425.83,155.18 L426.18,155.09 L426.54,154.97 L426.89,154.83 L427.24,154.66 L427.59,154.47 L427.95,154.26 L428.30,154.04 L428.65,153.80 L429.01,153.56 L429.36,153.30 L429.71,153.04 L430.07,152.78 L430.42,152.52 L430.77,152.26 L431.13,152.01 L431.48,151.76 L431.83,151.53 L432.19,151.31 L432.54,151.09 L432.89,150.88 L433.25,150.67 L433.60,150.46 L433.95,150.25 L434.31,150.04 L434.66,149.83 L435.01,149.62 L435.37,149.40 L435.72,149.19 L436.07,148.97 L436.43,148.76 L436.78,148.54 L437.13,148.32 L437.49,148.09 L437.84,147.86 L438.19,147.63 L438.55,147.40 L438.90,147.16 L439.25,146.92 L439.61,146.67 L439.96,146.42 L440.31,146.17 L440.67,145.91 L441.02,145.64 L441.37,145.37 L441.73,145.10 L442.08,144.82 L442.43,144.54 L442.78,144.26 L443.14,143.97 L443.49,143.68 L443.84,143.39 L444.20,143.09 L444.55,142.78 L444.90,142.46 L445.26,142.13 L445.61,141.80 L445.96,141.46 L446.32,141.11 L446.67,140.74 L447.02,140.37 L447.38,139.98 L447.73,139.58 L448.08,139.17 L448.44,138.75 L448.79,138.30 L449.14,137.82 L449.50,137.31 L449.85,136.77 L450.20,136.21 L450.56,135.61 L450.91,135.00 L451.26,134.37 L451.62,133.71 L451.97,133.05 L452.32,132.37 L452.68,131.68 L453.03,130.98 L453.38,130.28 L453.74,129.58 L454.09,128.87 L454.44,128.17 L454.80,127.48 L455.15,126.78 L455.50,126.07 L455.86,125.34 L456.21,124.60 L456.56,123.85 L456.92,123.09 L457.27,122.32 L457.62,121.55 L457.97,120.77 L458.33,119.98 L458.68,119.20 L459.03,118.42 L459.39,117.64 L459.74,116.87 L460.09,116.10 L460.45,115.35 L460.80,114.60 L461.15,113.86 L461.51,113.13 L461.86,112.40 L462.21,111.68 L462.57,110.96 L462.92,110.24 L463.27,109.53 L463.63,108.81 L463.98,108.09 L464.33,107.37 L464.69,106.65 L465.04,105.92 L465.39,105.18 L465.75,104.45 L466.10,103.70 L466.45,102.94 L466.81,102.18 L467.16,101.41 L467.51,100.63 L467.87,99.84 L468.22,99.06 L468.57,98.26 L468.93,97.47 L469.28,96.68 L469.63,95.89 L469.99,95.11 L470.34,94.32 L470.69,93.55 L471.05,92.78 L471.40,92.02 L471.75,91.26 L472.11,90.52 L472.46,89.79 L472.81,89.05 L473.16,88.28 L473.52,87.49 L473.87,86.71 L474.22,85.92 L474.58,85.15 L474.93,84.40 L475.28,83.68 L475.64,83.00 L475.99,82.36 L476.34,81.78 L476.70,81.25 L477.05,80.80 L477.40,80.41 L477.76,80.01 L478.11,79.62 L478.46,79.24 L478.82,78.87 L479.17,78.52 L479.52,78.19 L479.88,77.89 L480.23,77.63 L480.58,77.40 L480.94,77.23 L481.29,77.10 L481.64,77.02 L482.00,77.01 L482.35,77.04 L482.70,77.11 L483.06,77.22 L483.41,77.35 L483.76,77.51 L484.12,77.70 L484.47,77.92 L484.82,78.15 L485.18,78.40 L485.53,78.66 L485.88,78.93 L486.24,79.22 L486.59,79.50 L486.94,79.81 L487.30,80.18 L487.65,80.61 L488.00,81.08 L488.35,81.61 L488.71,82.19 L489.06,82.80 L489.41,83.46 L489.77,84.14 L490.12,84.86 L490.47,85.61 L490.83,86.37 L491.18,87.18 L491.53,88.06 L491.89,89.01 L492.24,90.04 L492.59,91.14 L492.95,92.30 L493.30,93.53 L493.65,94.83 L494.01,96.19 L494.36,97.61 L494.71,99.09 L495.07,100.67 L495.42,102.46 L495.77,104.44 L496.13,106.58 L496.48,108.82 L496.83,111.13 L497.19,113.47 L497.54,115.80 L497.89,118.07 L498.25,120.27 L498.60,122.48 L498.95,124.72 L499.31,126.96 L499.66,129.21 L500.01,131.45 L500.37,133.69 L500.72,135.93 L501.07,138.21 L501.43,140.52 L501.78,142.83 L502.13,145.14 L502.49,147.45 L502.84,149.73 L503.19,151.97 L503.54,154.17 L503.90,156.32 L504.25,158.39 L504.60,160.39 L504.96,162.35 L505.31,164.37 L505.66,166.39 L506.02,168.39 L506.37,170.31 L506.72,172.13 L507.08,173.82 L507.43,175.32 L507.78,176.60 L508.14,177.64 L508.49,178.59 L508.84,179.10 L509.20,179.10 L509.55,179.10 L509.90,179.10 L510.26,179.10 L510.61,179.10 L510.96,179.10 L511.32,179.10 L511.67,179.10 L512.02,179.10 L512.38,179.10 L512.73,179.10 L513.08,179.10 L513.44,179.10 L513.79,179.10 L514.14,179.10 L514.50,179.10 L514.85,179.10 L515.20,179.10 L515.56,179.10 L515.91,179.10 L516.26,179.10 L516.62,179.10 L516.97,179.10 L517.32,179.10 L517.68,179.10 L518.03,179.10 L518.38,179.10 L518.73,179.10 L519.09,179.10 L519.44,179.10 L519.79,179.10 L520.15,179.10 L520.50,179.10 L520.85,179.10 L521.21,179.10 L521.56,179.10 L521.91,179.10 L522.27,179.10 L522.62,179.10 L522.97,179.10 L523.33,179.10 L523.68,179.10 L524.03,179.10 L524.39,179.10 L524.74,179.10 L525.09,179.10 L525.45,179.10 L525.80,179.10" fill="none" stroke="#ff0000" stroke-width="1.8" stroke-linejoin="round"/>
<path d="M314.20,179.10 L314.55,179.10 L314.91,179.10 L315.26,179.10 L315.61,179.10 L315.97,179.10 L316.32,179.10 L316.67,179.10 L317.03,179.10 L317.38,179.10 L317.73,179.10 L318.09,179.10 L318.44,179.10 L318.79,179.10 L319.15,179.10 L319.50,179.10 L319.85,179.10 L320.21,179.10 L320.56,179.10 L320.91,179.10 L321.27,179.10 L321.62,179.10 L321.97,179.10 L322.32,179.10 L322.68,179.10 L323.03,179.10 L323.38,179.10 L323.74,179.10 L324.09,179.10 L324.44,179.10 L324.80,179.10 L325.15,179.10 L325.50,179.10 L325.86,179.10 L326.21,179.10 L326.56,179.10 L326.92,179.10 L327.27,179.10 L327.62,179.10 L327.98,179.10 L328.33,179.10 L328.68,179.10 L329.04,179.10 L329.39,179.10 L329.74,179.10 L330.10,179.10 L330.45,179.10 L330.80,179.10 L331.16,179.10 L331.51,179.10 L331.86,179.10 L332.22,179.10 L332.57,179.10 L332.92,179.10 L333.28,179.10 L333.63,179.10 L333.98,179.10 L334.34,179.10 L334.69,179.10 L335.04,179.10 L335.40,179.10 L335.75,179.10 L336.10,179.10 L336.46,179.10 L336.81,179.10 L337.16,179.10 L337.51,179.10 L337.87,179.10 L338.22,179.10 L338.57,179.10 L338.93,179.10 L339.28,179.10 L339.63,179.10 L339.99,179.10 L340.34,179.04 L340.69,178.71 L341.05,178.10 L341.40,177.24 L341.75,176.15 L342.11,174.86 L342.46,173.38 L342.81,171.76 L343.17,169.99 L343.52,168.12 L343.87,166.16 L344.23,164.14 L344.58,162.08 L344.93,160.01 L345.29,157.94 L345.64,155.90 L345.99,153.92 L346.35,152.02 L346.70,150.22 L347.05,148.54 L347.41,147.00 L347.76,145.47 L348.11,143.92 L348.47,142.37 L348.82,140.81 L349.17,139.26 L349.53,137.72 L349.88,136.20 L350.23,134.71 L350.59,133.25 L350.94,131.83 L351.29,130.46 L351.65,129.14 L352.00,127.89 L352.35,126.65 L352.70,125.41 L353.06,124.19 L353.41,122.99 L353.76,121.81 L354.12,120.66 L354.47,119.56 L354.82,118.50 L355.18,117.49 L355.53,116.54 L355.88,115.67 L356.24,114.86 L356.59,114.14 L356.94,113.43 L357.30,112.71 L357.65,112.00 L358.00,111.30 L358.36,110.62 L358.71,109.98 L359.06,109.39 L359.42,108.87 L359.77,108.41 L360.12,108.04 L360.48,107.77 L360.83,107.61 L361.18,107.57 L361.54,107.62 L361.89,107.73 L362.24,107.90 L362.60,108.11 L362.95,108.36 L363.30,108.64 L363.66,108.94 L364.01,109.25 L364.36,109.57 L364.72,109.91 L365.07,110.34 L365.42,110.83 L365.78,111.38 L366.13,111.93 L366.48,112.49 L366.84,113.00 L367.19,113.46 L367.54,113.90 L367.89,114.32 L368.25,114.73 L368.60,115.13 L368.95,115.53 L369.31,115.91 L369.66,116.30 L370.01,116.67 L370.37,117.04 L370.72,117.41 L371.07,117.77 L371.43,118.14 L371.78,118.49 L372.13,118.84 L372.49,119.19 L372.84,119.52 L373.19,119.86 L373.55,120.19 L373.90,120.51 L374.25,120.84 L374.61,121.16 L374.96,121.48 L375.31,121.79 L375.67,122.11 L376.02,122.43 L376.37,122.74 L376.73,123.06 L377.08,123.37 L377.43,123.69 L377.79,124.01 L378.14,124.33 L378.49,124.66 L378.85,124.99 L379.20,125.32 L379.55,125.65 L379.91,126.00 L380.26,126.34 L380.61,126.70 L380.97,127.06 L381.32,127.42 L381.67,127.78 L382.03,128.15 L382.38,128.52 L382.73,128.89 L383.08,129.27 L383.44,129.65 L383.79,130.03 L384.14,130.41 L384.50,130.80 L384.85,131.19 L385.20,131.58 L385.56,131.97 L385.91,132.37 L386.26,132.77 L386.62,133.16 L386.97,133.57 L387.32,133.97 L387.68,134.37 L388.03,134.78 L388.38,135.19 L388.74,135.59 L389.09,136.00 L389.44,136.42 L389.80,136.83 L390.15,137.24 L390.50,137.67 L390.86,138.11 L391.21,138.56 L391.56,139.03 L391.92,139.50 L392.27,139.98 L392.62,140.46 L392.98,140.94 L393.33,141.42 L393.68,141.89 L394.04,142.36 L394.39,142.82 L394.74,143.27 L395.10,143.70 L395.45,144.11 L395.80,144.51 L396.16,144.89 L396.51,145.24 L396.86,145.56 L397.22,145.87 L397.57,146.18 L397.92,146.49 L398.27,146.80 L398.63,147.10 L398.98,147.40 L399.33,147.69 L399.69,147.98 L400.04,148.26 L400.39,148.53 L400.75,148.79 L401.10,149.04 L401.45,149.29 L401.81,149.52 L402.16,149.74 L402.51,149.94 L402.87,150.13 L403.22,150.31 L403.57,150.47 L403.93,150.61 L404.28,150.74 L404.63,150.85 L404.99,150.95 L405.34,151.04 L405.69,151.14 L406.05,151.23 L406.40,151.32 L406.75,151.41 L407.11,151.50 L407.46,151.59 L407.81,151.67 L408.17,151.76 L408.52,151.84 L408.87,151.92 L409.23,151.99 L409.58,152.07 L409.93,152.14 L410.29,152.21 L410.64,152.27 L410.99,152.34 L411.35,152.40 L411.70,152.46 L412.05,152.51 L412.41,152.56 L412.76,152.61 L413.11,152.66 L413.46,152.70 L413.82,152.74 L414.17,152.78 L414.52,152.81 L414.88,152.84 L415.23,152.87 L415.58,152.89 L415.94,152.91 L416.29,152.92 L416.64,152.93 L417.00,152.94 L417.35,152.94 L417.70,152.94 L418.06,152.93 L418.41,152.91 L418.76,152.88 L419.12,152.86 L419.47,152.82 L419.82,152.78 L420.18,152.73 L420.53,152.68 L420.88,152.63 L421.24,152.57 L421.59,152.51 L421.94,152.45 L422.30,152.38 L422.65,152.32 L423.00,152.25 L423.36,152.18 L423.71,152.10 L424.06,152.03 L424.42,151.96 L424.77,151.89 L425.12,151.82 L425.48,151.75 L425.83,151.67 L426.18,151.59 L426.54,151.51 L426.89,151.42 L427.24,151.33 L427.59,151.24 L427.95,151.14 L428.30,151.04 L428.65,150.93 L429.01,150.82 L429.36,150.71 L429.71,150.60 L430.07,150.48 L430.42,150.36 L430.77,150.24 L431.13,150.12 L431.48,149.99 L431.83,149.86 L432.19,149.73 L432.54,149.60 L432.89,149.47 L433.25,149.33 L433.60,149.20 L433.95,149.06 L434.31,148.92 L434.66,148.78 L435.01,148.64 L435.37,148.50 L435.72,148.35 L436.07,148.21 L436.43,148.07 L436.78,147.92 L437.13,147.78 L437.49,147.63 L437.84,147.48 L438.19,147.32 L438.55,147.17 L438.90,147.01 L439.25,146.85 L439.61,146.68 L439.96,146.51 L440.31,146.34 L440.67,146.16 L441.02,145.98 L441.37,145.79 L441.73,145.60 L442.08,145.41 L442.43,145.21 L442.78,145.00 L443.14,144.79 L443.49,144.57 L443.84,144.35 L444.20,144.12 L444.55,143.88 L444.90,143.63 L445.26,143.38 L445.61,143.12 L445.96,142.85 L446.32,142.57 L446.67,142.28 L447.02,141.98 L447.38,141.68 L447.73,141.37 L448.08,141.05 L448.44,140.73 L448.79,140.39 L449.14,140.05 L449.50,139.70 L449.85,139.34 L450.20,138.98 L450.56,138.60 L450.91,138.22 L451.26,137.84 L451.62,137.43 L451.97,137.01 L452.32,136.57 L452.68,136.12 L453.03,135.65 L453.38,135.16 L453.74,134.66 L454.09,134.15 L454.44,133.63 L454.80,133.09 L455.15,132.55 L455.50,131.99 L455.86,131.42 L456.21,130.85 L456.56,130.27 L456.92,129.68 L457.27,129.09 L457.62,128.49 L457.97,127.89 L458.33,127.29 L458.68,126.67 L459.03,126.03 L459.39,125.38 L459.74,124.70 L460.09,124.01 L460.45,123.31 L460.80,122.59 L461.15,121.87 L461.51,121.14 L461.86,120.40 L462.21,119.66 L462.57,118.92 L462.92,118.18 L463.27,117.44 L463.63,116.71 L463.98,115.98 L464.33,115.27 L464.69,114.56 L465.04,113.85 L465.39,113.12 L465.75,112.39 L466.10,111.65 L466.45,110.91 L466.81,110.18 L467.16,109.45 L467.51,108.73 L467.87,108.03 L468.22,107.34 L468.57,106.67 L468.93,106.03 L469.28,105.41 L469.63,104.83 L469.99,104.27 L470.34,103.73 L470.69,103.20 L471.05,102.69 L471.40,102.19 L471.75,101.71 L472.11,101.23 L472.46,100.76 L472.81,100.29 L473.16,99.83 L473.52,99.36 L473.87,98.90 L474.22,98.43 L474.58,97.95 L474.93,97.43 L475.28,96.87 L475.64,96.28 L475.99,95.67 L476.34,95.05 L476.70,94.44 L477.05,93.84 L477.40,93.27 L477.76,92.75 L478.11,92.28 L478.46,91.87 L478.82,91.54 L479.17,91.30 L479.52,91.16 L479.88,91.13 L480.23,91.17 L480.58,91.26 L480.94,91.38 L481.29,91.54 L481.64,91.73 L482.00,91.94 L482.35,92.17 L482.70,92.42 L483.06,92.67 L483.41,92.93 L483.76,93.20 L484.12,93.51 L484.47,93.86 L484.82,94.25 L485.18,94.67 L485.53,95.13 L485.88,95.63 L486.24,96.16 L486.59,96.71 L486.94,97.30 L487.30,97.92 L487.65,98.56 L488.00,99.23 L488.35,99.92 L488.71,100.69 L489.06,101.54 L489.41,102.47 L489.77,103.47 L490.12,104.54 L490.47,105.67 L490.83,106.86 L491.18,108.10 L491.53,109.39 L491.89,110.73 L492.24,112.10 L492.59,113.51 L492.95,114.94 L493.30,116.40 L493.65,117.88 L494.01,119.38 L494.36,120.92 L494.71,122.56 L495.07,124.30 L495.42,126.12 L495.77,128.02 L496.13,129.97 L496.48,131.99 L496.83,134.04 L497.19,136.12 L497.54,138.23 L497.89,140.35 L498.25,142.47 L498.60,144.59 L498.95,146.68 L499.31,148.75 L499.66,150.83 L500.01,152.98 L500.37,155.19 L500.72,157.43 L501.07,159.69 L501.43,161.94 L501.78,164.17 L502.13,166.36 L502.49,168.49 L502.84,170.53 L503.19,172.47 L503.54,174.29 L503.90,176.23 L504.25,178.13 L504.60,179.09 L504.96,179.10 L505.31,179.10 L505.66,179.10 L506.02,179.10 L506.37,179.10 L506.72,179.10 L507.08,179.10 L507.43,179.10 L507.78,179.10 L508.14,179.10 L508.49,179.10 L508.84,179.10 L509.20,179.10 L509.55,179.10 L509.90,179.10 L510.26,179.10 L510.61,179.10 L510.96,179.10 L511.32,179.10 L511.67,179.10 L512.02,179.10 L512.38,179.10 L512.73,179.10 L513.08,179.10 L513.44,179.10 L513.79,179.10 L514.14,179.10 L514.50,179.10 L514.85,179.10 L515.20,179.10 L515.56,179.10 L515.91,179.10 L516.26,179.10 L516.62,179.10 L516.97,179.10 L517.32,179.10 L517.68,179.10 L518.03,179.10 L518.38,179.10 L518.73,179.10 L519.09,179.10 L519.44,179.10 L519.79,179.10 L520.15,179.10 L520.50,179.10 L520.85,179.10 L521.21,179.10 L521.56,179.10 L521.91,179.10 L522.27,179.10 L522.62,179.10 L522.97,179.10 L523.33,179.10 L523.68,179.10 L524.03,179.10 L524.39,179.10 L524.74,179.10 L525.09,179.10 L525.45,179.10 L525.80,179.10" fill="none" stroke="#0000ff" stroke-width="1.8" stroke-linejoin="round"/>
<path d="M314.20,179.10 L314.55,179.10 L314.91,179.10 L315.26,179.10 L315.61,179.10 L315.97,179.10 L316.32,179.10 L316.67,179.10 L317.03,179.10 L317.38,179.10 L317.73,179.10 L318.09,179.10 L318.44,179.10 L318.79,179.10 L319.15,179.10 L319.50,179.10 L319.85,179.10 L320.21,179.10 L320.56,179.10 L320.91,179.10 L321.27,179.10 L321.62,179.10 L321.97,179.10 L322.32,179.10 L322.68,179.10 L323.03,179.10 L323.38,179.10 L323.74,179.10 L324.09,179.10 L324.44,179.10 L324.80,179.10 L325.15,179.10 L325.50,179.10 L325.86,179.10 L326.21,179.10 L326.56,179.10 L326.92,179.10 L327.27,179.10 L327.62,179.10 L327.98,179.10 L328.33,179.10 L328.68,179.10 L329.04,179.10 L329.39,179.10 L329.74,179.10 L330.10,179.10 L330.45,179.10 L330.80,179.10 L331.16,179.10 L331.51,179.10 L331.86,179.10 L332.22,179.10 L332.57,179.10 L332.92,179.10 L333.28,179.10 L333.63,179.10 L333.98,179.10 L334.34,179.10 L334.69,179.10 L335.04,179.10 L335.40,179.10 L335.75,179.10 L336.10,179.10 L336.46,179.10 L336.81,179.10 L337.16,179.10 L337.51,179.10 L337.87,179.10 L338.22,179.10 L338.57,179.10 L338.93,179.10 L339.28,179.10 L339.63,179.10 L339.99,179.10 L340.34,179.10 L340.69,179.10 L341.05,179.10 L341.40,179.10 L341.75,179.10 L342.11,179.10 L342.46,179.10 L342.81,179.10 L343.17,179.02 L343.52,178.60 L343.87,177.88 L344.23,176.87 L344.58,175.60 L344.93,174.12 L345.29,172.45 L345.64,170.62 L345.99,168.66 L346.35,166.61 L346.70,164.49 L347.05,162.34 L347.41,160.19 L347.76,158.07 L348.11,156.01 L348.47,154.04 L348.82,152.19 L349.17,150.50 L349.53,149.00 L349.88,147.71 L350.23,146.56 L350.59,145.41 L350.94,144.25 L351.29,143.10 L351.65,141.96 L352.00,140.83 L352.35,139.71 L352.70,138.61 L353.06,137.53 L353.41,136.48 L353.76,135.46 L354.12,134.46 L354.47,133.51 L354.82,132.59 L355.18,131.72 L355.53,130.89 L355.88,130.11 L356.24,129.39 L356.59,128.72 L356.94,128.11 L357.30,127.57 L357.65,127.10 L358.00,126.70 L358.36,126.37 L358.71,126.10 L359.06,125.83 L359.42,125.58 L359.77,125.33 L360.12,125.10 L360.48,124.88 L360.83,124.68 L361.18,124.50 L361.54,124.34 L361.89,124.22 L362.24,124.11 L362.60,124.04 L362.95,124.01 L363.30,124.01 L363.66,124.10 L364.01,124.25 L364.36,124.44 L364.72,124.66 L365.07,124.89 L365.42,125.11 L365.78,125.31 L366.13,125.51 L366.48,125.71 L366.84,125.92 L367.19,126.14 L367.54,126.36 L367.89,126.58 L368.25,126.81 L368.60,127.04 L368.95,127.27 L369.31,127.51 L369.66,127.75 L370.01,128.00 L370.37,128.24 L370.72,128.49 L371.07,128.74 L371.43,128.99 L371.78,129.25 L372.13,129.50 L372.49,129.76 L372.84,130.01 L373.19,130.27 L373.55,130.53 L373.90,130.79 L374.25,131.04 L374.61,131.30 L374.96,131.55 L375.31,131.81 L375.67,132.06 L376.02,132.32 L376.37,132.59 L376.73,132.85 L377.08,133.12 L377.43,133.40 L377.79,133.67 L378.14,133.95 L378.49,134.23 L378.85,134.51 L379.20,134.80 L379.55,135.08 L379.91,135.37 L380.26,135.65 L380.61,135.93 L380.97,136.22 L381.32,136.50 L381.67,136.78 L382.03,137.06 L382.38,137.34 L382.73,137.61 L383.08,137.88 L383.44,138.15 L383.79,138.41 L384.14,138.67 L384.50,138.93 L384.85,139.18 L385.20,139.42 L385.56,139.66 L385.91,139.89 L386.26,140.12 L386.62,140.35 L386.97,140.57 L387.32,140.78 L387.68,141.00 L388.03,141.21 L388.38,141.42 L388.74,141.63 L389.09,141.83 L389.44,142.04 L389.80,142.24 L390.15,142.44 L390.50,142.63 L390.86,142.83 L391.21,143.02 L391.56,143.21 L391.92,143.40 L392.27,143.59 L392.62,143.78 L392.98,143.97 L393.33,144.16 L393.68,144.34 L394.04,144.53 L394.39,144.72 L394.74,144.90 L395.10,145.09 L395.45,145.27 L395.80,145.46 L396.16,145.64 L396.51,145.83 L396.86,146.01 L397.22,146.20 L397.57,146.40 L397.92,146.60 L398.27,146.80 L398.63,147.01 L398.98,147.22 L399.33,147.43 L399.69,147.64 L400.04,147.84 L400.39,148.05 L400.75,148.25 L401.10,148.44 L401.45,148.63 L401.81,148.82 L402.16,148.99 L402.51,149.16 L402.87,149.32 L403.22,149.47 L403.57,149.60 L403.93,149.72 L404.28,149.83 L404.63,149.92 L404.99,150.01 L405.34,150.09 L405.69,150.17 L406.05,150.26 L406.40,150.34 L406.75,150.42 L407.11,150.50 L407.46,150.57 L407.81,150.65 L408.17,150.72 L408.52,150.80 L408.87,150.87 L409.23,150.94 L409.58,151.01 L409.93,151.07 L410.29,151.14 L410.64,151.20 L410.99,151.27 L411.35,151.33 L411.70,151.38 L412.05,151.44 L412.41,151.49 L412.76,151.54 L413.11,151.59 L413.46,151.64 L413.82,151.68 L414.17,151.73 L414.52,151.77 L414.88,151.80 L415.23,151.84 L415.58,151.87 L415.94,151.90 L416.29,151.92 L416.64,151.94 L417.00,151.96 L417.35,151.98 L417.70,151.99 L418.06,152.00 L418.41,152.01 L418.76,152.01 L419.12,152.01 L419.47,152.01 L419.82,151.99 L420.18,151.97 L420.53,151.94 L420.88,151.90 L421.24,151.86 L421.59,151.81 L421.94,151.75 L422.30,151.69 L422.65,151.63 L423.00,151.56 L423.36,151.48 L423.71,151.40 L424.06,151.32 L424.42,151.23 L424.77,151.14 L425.12,151.05 L425.48,150.95 L425.83,150.86 L426.18,150.76 L426.54,150.65 L426.89,150.55 L427.24,150.45 L427.59,150.34 L427.95,150.24 L428.30,150.13 L428.65,150.03 L429.01,149.92 L429.36,149.82 L429.71,149.71 L430.07,149.61 L430.42,149.51 L430.77,149.41 L431.13,149.31 L431.48,149.21 L431.83,149.10 L432.19,149.00 L432.54,148.89 L432.89,148.77 L433.25,148.66 L433.60,148.54 L433.95,148.42 L434.31,148.30 L434.66,148.18 L435.01,148.05 L435.37,147.92 L435.72,147.79 L436.07,147.66 L436.43,147.52 L436.78,147.39 L437.13,147.25 L437.49,147.11 L437.84,146.97 L438.19,146.82 L438.55,146.68 L438.90,146.53 L439.25,146.38 L439.61,146.23 L439.96,146.07 L440.31,145.92 L440.67,145.76 L441.02,145.60 L441.37,145.45 L441.73,145.28 L442.08,145.12 L442.43,144.95 L442.78,144.78 L443.14,144.60 L443.49,144.42 L443.84,144.23 L444.20,144.04 L444.55,143.84 L444.90,143.64 L445.26,143.44 L445.61,143.23 L445.96,143.02 L446.32,142.81 L446.67,142.59 L447.02,142.37 L447.38,142.14 L447.73,141.91 L448.08,141.68 L448.44,141.44 L448.79,141.19 L449.14,140.93 L449.50,140.68 L449.85,140.41 L450.20,140.14 L450.56,139.87 L450.91,139.59 L451.26,139.31 L451.62,139.03 L451.97,138.74 L452.32,138.45 L452.68,138.16 L453.03,137.86 L453.38,137.57 L453.74,137.27 L454.09,136.97 L454.44,136.67 L454.80,136.37 L455.15,136.07 L455.50,135.77 L455.86,135.47 L456.21,135.17 L456.56,134.86 L456.92,134.55 L457.27,134.24 L457.62,133.93 L457.97,133.62 L458.33,133.30 L458.68,132.99 L459.03,132.67 L459.39,132.35 L459.74,132.02 L460.09,131.70 L460.45,131.37 L460.80,131.04 L461.15,130.71 L461.51,130.37 L461.86,130.04 L462.21,129.70 L462.57,129.35 L462.92,129.01 L463.27,128.66 L463.63,128.31 L463.98,127.96 L464.33,127.60 L464.69,127.24 L465.04,126.88 L465.39,126.51 L465.75,126.15 L466.10,125.77 L466.45,125.39 L466.81,124.98 L467.16,124.57 L467.51,124.14 L467.87,123.69 L468.22,123.25 L468.57,122.79 L468.93,122.34 L469.28,121.88 L469.63,121.43 L469.99,120.98 L470.34,120.53 L470.69,120.10 L471.05,119.68 L471.40,119.27 L471.75,118.88 L472.11,118.51 L472.46,118.16 L472.81,117.83 L473.16,117.52 L473.52,117.19 L473.87,116.85 L474.22,116.51 L474.58,116.18 L474.93,115.86 L475.28,115.57 L475.64,115.31 L475.99,115.09 L476.34,114.91 L476.70,114.80 L477.05,114.74 L477.40,114.76 L477.76,114.84 L478.11,114.96 L478.46,115.14 L478.82,115.35 L479.17,115.60 L479.52,115.88 L479.88,116.18 L480.23,116.50 L480.58,116.82 L480.94,117.16 L481.29,117.56 L481.64,118.04 L482.00,118.59 L482.35,119.22 L482.70,119.90 L483.06,120.65 L483.41,121.44 L483.76,122.28 L484.12,123.15 L484.47,124.06 L484.82,125.00 L485.18,125.95 L485.53,126.92 L485.88,127.89 L486.24,128.87 L486.59,129.84 L486.94,130.83 L487.30,131.86 L487.65,132.95 L488.00,134.08 L488.35,135.25 L488.71,136.46 L489.06,137.70 L489.41,138.97 L489.77,140.27 L490.12,141.58 L490.47,142.91 L490.83,144.26 L491.18,145.61 L491.53,146.97 L491.89,148.33 L492.24,149.71 L492.59,151.17 L492.95,152.69 L493.30,154.25 L493.65,155.84 L494.01,157.45 L494.36,159.06 L494.71,160.66 L495.07,162.23 L495.42,163.75 L495.77,165.21 L496.13,166.60 L496.48,167.91 L496.83,169.12 L497.19,170.39 L497.54,171.71 L497.89,173.05 L498.25,174.35 L498.60,175.59 L498.95,176.70 L499.31,177.65 L499.66,178.40 L500.01,178.90 L500.37,179.10 L500.72,179.10 L501.07,179.10 L501.43,179.10 L501.78,179.10 L502.13,179.10 L502.49,179.10 L502.84,179.10 L503.19,179.10 L503.54,179.10 L503.90,179.10 L504.25,179.10 L504.60,179.10 L504.96,179.10 L505.31,179.10 L505.66,179.10 L506.02,179.10 L506.37,179.10 L506.72,179.10 L507.08,179.10 L507.43,179.10 L507.78,179.10 L508.14,179.10 L508.49,179.10 L508.84,179.10 L509.20,179.10 L509.55,179.10 L509.90,179.10 L510.26,179.10 L510.61,179.10 L510.96,179.10 L511.32,179.10 L511.67,179.10 L512.02,179.10 L512.38,179.10 L512.73,179.10 L513.08,179.10 L513.44,179.10 L513.79,179.10 L514.14,179.10 L514.50,179.10 L514.85,179.10 L515.20,179.10 L515.56,179.10 L515.91,179.10 L516.26,179.10 L516.62,179.10 L516.97,179.10 L517.32,179.10 L517.68,179.10 L518.03,179.10 L518.38,179.10 L518.73,179.10 L519.09,179.10 L519.44,179.10 L519.79,179.10 L520.15,179.10 L520.50,179.10 L520.85,179.10 L521.21,179.10 L521.56,179.10 L521.91,179.10 L522.27,179.10 L522.62,179.10 L522.97,179.10 L523.33,179.10 L523.68,179.10 L524.03,179.10 L524.39,179.10 L524.74,179.10 L525.09,179.10 L525.45,179.10 L525.80,179.10" fill="none" stroke="#ff00ff" stroke-width="1.8" stroke-linejoin="round"/>
<path d="M314.20,179.10 L314.55,179.10 L314.91,179.10 L315.26,179.10 L315.61,179.10 L315.97,179.10 L316.32,179.10 L316.67,179.10 L317.03,179.10 L317.38,179.10 L317.73,179.10 L318.09,179.10 L318.44,179.10 L318.79,179.10 L319.15,179.10 L319.50,179.10 L319.85,179.10 L320.21,179.10 L320.56,179.10 L320.91,179.10 L321.27,179.10 L321.62,179.10 L321.97,179.10 L322.32,179.10 L322.68,179.10 L323.03,179.10 L323.38,179.10 L323.74,179.10 L324.09,179.10 L324.44,179.10 L324.80,179.10 L325.15,179.10 L325.50,179.10 L325.86,179.10 L326.21,179.10 L326.56,179.10 L326.92,179.10 L327.27,179.10 L327.62,179.10 L327.98,179.10 L328.33,179.10 L328.68,179.10 L329.04,179.10 L329.39,179.10 L329.74,179.10 L330.10,179.10 L330.45,179.10 L330.80,179.10 L331.16,179.10 L331.51,179.10 L331.86,179.10 L332.22,179.10 L332.57,179.10 L332.92,179.10 L333.28,179.10 L333.63,179.10 L333.98,179.10 L334.34,179.10 L334.69,179.10 L335.04,179.10 L335.40,179.10 L335.75,179.10 L336.10,179.10 L336.46,179.10 L336.81,179.10 L337.16,179.10 L337.51,179.10 L337.87,179.10 L338.22,179.10 L338.57,179.10 L338.93,179.10 L339.28,179.10 L339.63,179.10 L339.99,179.10 L340.34,179.10 L340.69,179.10 L341.05,179.10 L341.40,179.10 L341.75,179.10 L342.11,179.10 L342.46,179.10 L342.81,179.10 L343.17,179.10 L343.52,179.10 L343.87,179.10 L344.23,179.10 L344.58,179.10 L344.93,179.10 L345.29,179.10 L345.64,179.10 L345.99,179.10 L346.35,179.04 L346.70,178.89 L347.05,178.66 L347.41,178.36 L347.76,178.01 L348.11,177.61 L348.47,177.18 L348.82,176.72 L349.17,176.24 L349.53,175.64 L349.88,174.88 L350.23,173.97 L350.59,172.92 L350.94,171.77 L351.29,170.52 L351.65,169.20 L352.00,167.83 L352.35,166.41 L352.70,164.97 L353.06,163.43 L353.41,161.55 L353.76,159.43 L354.12,157.21 L354.47,155.02 L354.82,152.99 L355.18,151.26 L355.53,149.94 L355.88,148.81 L356.24,147.74 L356.59,146.72 L356.94,145.75 L357.30,144.85 L357.65,144.02 L358.00,143.25 L358.36,142.56 L358.71,141.95 L359.06,141.41 L359.42,140.96 L359.77,140.60 L360.12,140.27 L360.48,139.95 L360.83,139.64 L361.18,139.35 L361.54,139.09 L361.89,138.84 L362.24,138.63 L362.60,138.45 L362.95,138.30 L363.30,138.20 L363.66,138.14 L364.01,138.13 L364.36,138.14 L364.72,138.17 L365.07,138.21 L365.42,138.26 L365.78,138.32 L366.13,138.37 L366.48,138.42 L366.84,138.48 L367.19,138.54 L367.54,138.60 L367.89,138.67 L368.25,138.75 L368.60,138.82 L368.95,138.90 L369.31,138.98 L369.66,139.07 L370.01,139.15 L370.37,139.24 L370.72,139.34 L371.07,139.43 L371.43,139.53 L371.78,139.62 L372.13,139.72 L372.49,139.82 L372.84,139.92 L373.19,140.02 L373.55,140.12 L373.90,140.22 L374.25,140.33 L374.61,140.43 L374.96,140.53 L375.31,140.63 L375.67,140.73 L376.02,140.83 L376.37,140.93 L376.73,141.03 L377.08,141.12 L377.43,141.22 L377.79,141.31 L378.14,141.40 L378.49,141.49 L378.85,141.58 L379.20,141.68 L379.55,141.77 L379.91,141.86 L380.26,141.95 L380.61,142.05 L380.97,142.14 L381.32,142.23 L381.67,142.33 L382.03,142.42 L382.38,142.52 L382.73,142.61 L383.08,142.71 L383.44,142.80 L383.79,142.89 L384.14,142.99 L384.50,143.08 L384.85,143.18 L385.20,143.27 L385.56,143.36 L385.91,143.46 L386.26,143.55 L386.62,143.64 L386.97,143.73 L387.32,143.83 L387.68,143.92 L388.03,144.01 L388.38,144.10 L388.74,144.19 L389.09,144.27 L389.44,144.36 L389.80,144.45 L390.15,144.53 L390.50,144.62 L390.86,144.70 L391.21,144.79 L391.56,144.87 L391.92,144.95 L392.27,145.03 L392.62,145.10 L392.98,145.18 L393.33,145.25 L393.68,145.32 L394.04,145.39 L394.39,145.47 L394.74,145.54 L395.10,145.61 L395.45,145.69 L395.80,145.76 L396.16,145.84 L396.51,145.92 L396.86,146.00 L397.22,146.09 L397.57,146.18 L397.92,146.27 L398.27,146.37 L398.63,146.46 L398.98,146.57 L399.33,146.67 L399.69,146.77 L400.04,146.88 L400.39,146.99 L400.75,147.10 L401.10,147.21 L401.45,147.32 L401.81,147.43 L402.16,147.54 L402.51,147.65 L402.87,147.76 L403.22,147.87 L403.57,147.98 L403.93,148.08 L404.28,148.19 L404.63,148.29 L404.99,148.39 L405.34,148.48 L405.69,148.58 L406.05,148.67 L406.40,148.75 L406.75,148.84 L407.11,148.91 L407.46,148.99 L407.81,149.06 L408.17,149.12 L408.52,149.18 L408.87,149.23 L409.23,149.28 L409.58,149.33 L409.93,149.39 L410.29,149.44 L410.64,149.49 L410.99,149.53 L411.35,149.58 L411.70,149.63 L412.05,149.67 L412.41,149.71 L412.76,149.75 L413.11,149.79 L413.46,149.82 L413.82,149.85 L414.17,149.88 L414.52,149.90 L414.88,149.91 L415.23,149.92 L415.58,149.93 L415.94,149.93 L416.29,149.93 L416.64,149.92 L417.00,149.91 L417.35,149.90 L417.70,149.89 L418.06,149.87 L418.41,149.85 L418.76,149.82 L419.12,149.80 L419.47,149.77 L419.82,149.74 L420.18,149.71 L420.53,149.67 L420.88,149.64 L421.24,149.60 L421.59,149.56 L421.94,149.51 L422.30,149.47 L422.65,149.42 L423.00,149.37 L423.36,149.32 L423.71,149.27 L424.06,149.22 L424.42,149.16 L424.77,149.11 L425.12,149.05 L425.48,148.99 L425.83,148.94 L426.18,148.88 L426.54,148.82 L426.89,148.75 L427.24,148.69 L427.59,148.63 L427.95,148.56 L428.30,148.50 L428.65,148.44 L429.01,148.37 L429.36,148.31 L429.71,148.24 L430.07,148.17 L430.42,148.11 L430.77,148.04 L431.13,147.97 L431.48,147.89 L431.83,147.81 L432.19,147.72 L432.54,147.62 L432.89,147.52 L433.25,147.42 L433.60,147.31 L433.95,147.20 L434.31,147.08 L434.66,146.96 L435.01,146.84 L435.37,146.71 L435.72,146.58 L436.07,146.45 L436.43,146.32 L436.78,146.19 L437.13,146.06 L437.49,145.92 L437.84,145.79 L438.19,145.65 L438.55,145.52 L438.90,145.38 L439.25,145.25 L439.61,145.12 L439.96,144.98 L440.31,144.86 L440.67,144.73 L441.02,144.60 L441.37,144.48 L441.73,144.36 L442.08,144.25 L442.43,144.13 L442.78,144.02 L443.14,143.91 L443.49,143.80 L443.84,143.70 L444.20,143.59 L444.55,143.49 L444.90,143.38 L445.26,143.28 L445.61,143.18 L445.96,143.08 L446.32,142.98 L446.67,142.88 L447.02,142.77 L447.38,142.67 L447.73,142.57 L448.08,142.47 L448.44,142.37 L448.79,142.27 L449.14,142.16 L449.50,142.06 L449.85,141.95 L450.20,141.85 L450.56,141.74 L450.91,141.63 L451.26,141.52 L451.62,141.40 L451.97,141.29 L452.32,141.17 L452.68,141.05 L453.03,140.92 L453.38,140.79 L453.74,140.66 L454.09,140.53 L454.44,140.40 L454.80,140.26 L455.15,140.11 L455.50,139.97 L455.86,139.81 L456.21,139.66 L456.56,139.50 L456.92,139.34 L457.27,139.16 L457.62,138.98 L457.97,138.78 L458.33,138.56 L458.68,138.33 L459.03,138.09 L459.39,137.84 L459.74,137.58 L460.09,137.32 L460.45,137.05 L460.80,136.77 L461.15,136.49 L461.51,136.21 L461.86,135.92 L462.21,135.64 L462.57,135.36 L462.92,135.08 L463.27,134.81 L463.63,134.54 L463.98,134.28 L464.33,134.03 L464.69,133.78 L465.04,133.53 L465.39,133.28 L465.75,133.03 L466.10,132.77 L466.45,132.52 L466.81,132.26 L467.16,132.01 L467.51,131.75 L467.87,131.50 L468.22,131.25 L468.57,131.00 L468.93,130.75 L469.28,130.51 L469.63,130.27 L469.99,130.04 L470.34,129.81 L470.69,129.59 L471.05,129.38 L471.40,129.17 L471.75,128.97 L472.11,128.77 L472.46,128.59 L472.81,128.39 L473.16,128.19 L473.52,127.98 L473.87,127.78 L474.22,127.58 L474.58,127.41 L474.93,127.25 L475.28,127.13 L475.64,127.05 L475.99,127.01 L476.34,127.03 L476.70,127.08 L477.05,127.18 L477.40,127.32 L477.76,127.49 L478.11,127.70 L478.46,127.94 L478.82,128.21 L479.17,128.50 L479.52,128.83 L479.88,129.17 L480.23,129.54 L480.58,129.92 L480.94,130.32 L481.29,130.73 L481.64,131.15 L482.00,131.58 L482.35,132.02 L482.70,132.49 L483.06,133.05 L483.41,133.70 L483.76,134.42 L484.12,135.22 L484.47,136.08 L484.82,136.99 L485.18,137.95 L485.53,138.95 L485.88,139.98 L486.24,141.03 L486.59,142.10 L486.94,143.18 L487.30,144.26 L487.65,145.42 L488.00,146.68 L488.35,148.02 L488.71,149.41 L489.06,150.85 L489.41,152.32 L489.77,153.80 L490.12,155.28 L490.47,156.73 L490.83,158.14 L491.18,159.49 L491.53,160.78 L491.89,162.08 L492.24,163.41 L492.59,164.76 L492.95,166.09 L493.30,167.41 L493.65,168.69 L494.01,169.92 L494.36,171.08 L494.71,172.16 L495.07,173.13 L495.42,173.99 L495.77,174.72 L496.13,175.44 L496.48,176.16 L496.83,176.85 L497.19,177.49 L497.54,178.06 L497.89,178.53 L498.25,178.87 L498.60,179.06 L498.95,179.10 L499.31,179.10 L499.66,179.10 L500.01,179.10 L500.37,179.10 L500.72,179.10 L501.07,179.10 L501.43,179.10 L501.78,179.10 L502.13,179.10 L502.49,179.10 L502.84,179.10 L503.19,179.10 L503.54,179.10 L503.90,179.10 L504.25,179.10 L504.60,179.10 L504.96,179.10 L505.31,179.10 L505.66,179.10 L506.02,179.10 L506.37,179.10 L506.72,179.10 L507.08,179.10 L507.43,179.10 L507.78,179.10 L508.14,179.10 L508.49,179.10 L508.84,179.10 L509.20,179.10 L509.55,179.10 L509.90,179.10 L510.26,179.10 L510.61,179.10 L510.96,179.10 L511.32,179.10 L511.67,179.10 L512.02,179.10 L512.38,179.10 L512.73,179.10 L513.08,179.10 L513.44,179.10 L513.79,179.10 L514.14,179.10 L514.50,179.10 L514.85,179.10 L515.20,179.10 L515.56,179.10 L515.91,179.10 L516.26,179.10 L516.62,179.10 L516.97,179.10 L517.32,179.10 L517.68,179.10 L518.03,179.10 L518.38,179.10 L518.73,179.10 L519.09,179.10 L519.44,179.10 L519.79,179.10 L520.15,179.10 L520.50,179.10 L520.85,179.10 L521.21,179.10 L521.56,179.10 L521.91,179.10 L522.27,179.10 L522.62,179.10 L522.97,179.10 L523.33,179.10 L523.68,179.10 L524.03,179.10 L524.39,179.10 L524.74,179.10 L525.09,179.10 L525.45,179.10 L525.80,179.10" fill="none" stroke="#007a00" stroke-width="1.8" stroke-linejoin="round"/>
<line x1="314.2" y1="181" x2="314.2" y2="177.7" stroke="#333" stroke-width="0.8"/>
<line x1="314.2" y1="17.4" x2="314.2" y2="20.2" stroke="#333" stroke-width="0.8"/>
<line x1="327.4" y1="181" x2="327.4" y2="178.9" stroke="#333" stroke-width="0.8"/>
<line x1="327.4" y1="17.4" x2="327.4" y2="19.0" stroke="#333" stroke-width="0.8"/>
<line x1="340.6" y1="181" x2="340.6" y2="177.7" stroke="#333" stroke-width="0.8"/>
<line x1="340.6" y1="17.4" x2="340.6" y2="20.2" stroke="#333" stroke-width="0.8"/>
<line x1="353.9" y1="181" x2="353.9" y2="178.9" stroke="#333" stroke-width="0.8"/>
<line x1="353.9" y1="17.4" x2="353.9" y2="19.0" stroke="#333" stroke-width="0.8"/>
<line x1="367.1" y1="181" x2="367.1" y2="177.7" stroke="#333" stroke-width="0.8"/>
<line x1="367.1" y1="17.4" x2="367.1" y2="20.2" stroke="#333" stroke-width="0.8"/>
<line x1="380.3" y1="181" x2="380.3" y2="178.9" stroke="#333" stroke-width="0.8"/>
<line x1="380.3" y1="17.4" x2="380.3" y2="19.0" stroke="#333" stroke-width="0.8"/>
<line x1="393.5" y1="181" x2="393.5" y2="177.7" stroke="#333" stroke-width="0.8"/>
<line x1="393.5" y1="17.4" x2="393.5" y2="20.2" stroke="#333" stroke-width="0.8"/>
<line x1="406.8" y1="181" x2="406.8" y2="178.9" stroke="#333" stroke-width="0.8"/>
<line x1="406.8" y1="17.4" x2="406.8" y2="19.0" stroke="#333" stroke-width="0.8"/>
<line x1="420.0" y1="181" x2="420.0" y2="177.7" stroke="#333" stroke-width="0.8"/>
<line x1="420.0" y1="17.4" x2="420.0" y2="20.2" stroke="#333" stroke-width="0.8"/>
<line x1="433.2" y1="181" x2="433.2" y2="178.9" stroke="#333" stroke-width="0.8"/>
<line x1="433.2" y1="17.4" x2="433.2" y2="19.0" stroke="#333" stroke-width="0.8"/>
<line x1="446.4" y1="181" x2="446.4" y2="177.7" stroke="#333" stroke-width="0.8"/>
<line x1="446.4" y1="17.4" x2="446.4" y2="20.2" stroke="#333" stroke-width="0.8"/>
<line x1="459.7" y1="181" x2="459.7" y2="178.9" stroke="#333" stroke-width="0.8"/>
<line x1="459.7" y1="17.4" x2="459.7" y2="19.0" stroke="#333" stroke-width="0.8"/>
<line x1="472.9" y1="181" x2="472.9" y2="177.7" stroke="#333" stroke-width="0.8"/>
<line x1="472.9" y1="17.4" x2="472.9" y2="20.2" stroke="#333" stroke-width="0.8"/>
<line x1="486.1" y1="181" x2="486.1" y2="178.9" stroke="#333" stroke-width="0.8"/>
<line x1="486.1" y1="17.4" x2="486.1" y2="19.0" stroke="#333" stroke-width="0.8"/>
<line x1="499.4" y1="181" x2="499.4" y2="177.7" stroke="#333" stroke-width="0.8"/>
<line x1="499.4" y1="17.4" x2="499.4" y2="20.2" stroke="#333" stroke-width="0.8"/>
<line x1="512.6" y1="181" x2="512.6" y2="178.9" stroke="#333" stroke-width="0.8"/>
<line x1="512.6" y1="17.4" x2="512.6" y2="19.0" stroke="#333" stroke-width="0.8"/>
<line x1="525.8" y1="181" x2="525.8" y2="177.7" stroke="#333" stroke-width="0.8"/>
<line x1="525.8" y1="17.4" x2="525.8" y2="20.2" stroke="#333" stroke-width="0.8"/>
<line x1="309.4" y1="179.1" x2="312.4" y2="179.1" stroke="#333" stroke-width="0.8"/>
<line x1="530.7" y1="179.1" x2="527.7" y2="179.1" stroke="#333" stroke-width="0.8"/>
<line x1="309.4" y1="155.9" x2="311.2" y2="155.9" stroke="#333" stroke-width="0.8"/>
<line x1="530.7" y1="155.9" x2="528.9" y2="155.9" stroke="#333" stroke-width="0.8"/>
<line x1="309.4" y1="132.8" x2="312.4" y2="132.8" stroke="#333" stroke-width="0.8"/>
<line x1="530.7" y1="132.8" x2="527.7" y2="132.8" stroke="#333" stroke-width="0.8"/>
<line x1="309.4" y1="109.7" x2="311.2" y2="109.7" stroke="#333" stroke-width="0.8"/>
<line x1="530.7" y1="109.7" x2="528.9" y2="109.7" stroke="#333" stroke-width="0.8"/>
<line x1="309.4" y1="86.5" x2="312.4" y2="86.5" stroke="#333" stroke-width="0.8"/>
<line x1="530.7" y1="86.5" x2="527.7" y2="86.5" stroke="#333" stroke-width="0.8"/>
<line x1="309.4" y1="63.3" x2="311.2" y2="63.3" stroke="#333" stroke-width="0.8"/>
<line x1="530.7" y1="63.3" x2="528.9" y2="63.3" stroke="#333" stroke-width="0.8"/>
<line x1="309.4" y1="40.2" x2="312.4" y2="40.2" stroke="#333" stroke-width="0.8"/>
<line x1="530.7" y1="40.2" x2="527.7" y2="40.2" stroke="#333" stroke-width="0.8"/>
<text x="306.0" y="182.6" text-anchor="end" font-family="Liberation Sans" font-size="9.8" fill="#1a1a1a">0.0</text>
<text x="306.0" y="136.3" text-anchor="end" font-family="Liberation Sans" font-size="9.8" fill="#1a1a1a">2.0E6</text>
<text x="306.0" y="90.0" text-anchor="end" font-family="Liberation Sans" font-size="9.8" fill="#1a1a1a">4.0E6</text>
<text x="306.0" y="43.7" text-anchor="end" font-family="Liberation Sans" font-size="9.8" fill="#1a1a1a">6.0E6</text>
<text x="314.2" y="192.4" text-anchor="middle" font-family="Liberation Sans" font-size="10.3" fill="#1a1a1a">0.0</text>
<text x="340.6" y="192.4" text-anchor="middle" font-family="Liberation Sans" font-size="10.3" fill="#1a1a1a">0.5</text>
<text x="367.1" y="192.4" text-anchor="middle" font-family="Liberation Sans" font-size="10.3" fill="#1a1a1a">1.0</text>
<text x="393.5" y="192.4" text-anchor="middle" font-family="Liberation Sans" font-size="10.3" fill="#1a1a1a">1.5</text>
<text x="420.0" y="192.4" text-anchor="middle" font-family="Liberation Sans" font-size="10.3" fill="#1a1a1a">2.0</text>
<text x="446.4" y="192.4" text-anchor="middle" font-family="Liberation Sans" font-size="10.3" fill="#1a1a1a">2.5</text>
<text x="472.9" y="192.4" text-anchor="middle" font-family="Liberation Sans" font-size="10.3" fill="#1a1a1a">3.0</text>
<text x="499.4" y="192.4" text-anchor="middle" font-family="Liberation Sans" font-size="10.3" fill="#1a1a1a">3.5</text>
<text x="525.8" y="192.4" text-anchor="middle" font-family="Liberation Sans" font-size="10.3" fill="#1a1a1a">4.0</text>
<text x="367.2" y="205.3" font-family="Liberation Sans" font-size="10.8" fill="#111">width of the tape [mm]</text>
<text transform="translate(278.1,149.7) rotate(-90)" x="0" y="0" font-family="Liberation Sans" font-size="10.6" fill="#111">contact stress [Pa]</text>
<text x="318.9" y="49.4" font-family="Liberation Sans" font-size="11.4" letter-spacing="0.3" fill="#111">B-side</text>
<text x="493.6" y="81.8" font-family="Liberation Sans" font-size="11.4" letter-spacing="0.5" fill="#111">A-side</text>
<rect x="363.2" y="17.4" width="152.3" height="49.5" fill="#fff" stroke="#999" stroke-width="0.9"/>
<text x="386.6" y="15.6" font-family="Liberation Sans" font-weight="bold" font-size="8.7" fill="#111" stroke="#111" stroke-width="0.2">Forward Helix</text>
<line x1="368" y1="26.2" x2="382" y2="26.2" stroke="#000000" stroke-width="1.6"/>
<text x="383.5" y="28.5" font-family="Liberation Sans" font-size="7.8" fill="#1a1a1a">r=1.5 mm-FEM</text>
<line x1="436.8" y1="26.2" x2="448.2" y2="26.2" stroke="#000000" stroke-width="1.4" stroke-dasharray="3.7 4.4"/>
<text x="449.4" y="28.5" font-family="Liberation Sans" font-size="7.75" fill="#1a1a1a">r=1.5 mm-formula</text>
<line x1="368" y1="35.4" x2="382" y2="35.4" stroke="#ff0000" stroke-width="1.6"/>
<text x="383.5" y="37.7" font-family="Liberation Sans" font-size="7.8" fill="#1a1a1a">r=2.0 mm-FEM</text>
<line x1="436.8" y1="35.4" x2="448.2" y2="35.4" stroke="#ff0000" stroke-width="1.4" stroke-dasharray="3.7 4.4"/>
<text x="449.4" y="37.7" font-family="Liberation Sans" font-size="7.75" fill="#1a1a1a">r=2.0 mm-formula</text>
<line x1="368" y1="44.6" x2="382" y2="44.6" stroke="#0000ff" stroke-width="1.6"/>
<text x="383.5" y="46.9" font-family="Liberation Sans" font-size="7.8" fill="#1a1a1a">r=3.0 mm-FEM</text>
<line x1="436.8" y1="44.6" x2="448.2" y2="44.6" stroke="#0000ff" stroke-width="1.4" stroke-dasharray="3.7 4.4"/>
<text x="449.4" y="46.9" font-family="Liberation Sans" font-size="7.75" fill="#1a1a1a">r=3.0 mm-formula</text>
<line x1="368" y1="53.8" x2="382" y2="53.8" stroke="#ff00ff" stroke-width="1.6"/>
<text x="383.5" y="56.1" font-family="Liberation Sans" font-size="7.8" fill="#1a1a1a">r=4.0 mm-FEM</text>
<line x1="436.8" y1="53.8" x2="448.2" y2="53.8" stroke="#ff00ff" stroke-width="1.4" stroke-dasharray="3.7 4.4"/>
<text x="449.4" y="56.1" font-family="Liberation Sans" font-size="7.75" fill="#1a1a1a">r=4.0 mm-formula</text>
<line x1="368" y1="63.0" x2="382" y2="63.0" stroke="#007a00" stroke-width="1.6"/>
<text x="383.5" y="65.3" font-family="Liberation Sans" font-size="7.8" fill="#1a1a1a">r=5.0 mm-FEM</text>
<line x1="436.8" y1="63.0" x2="448.2" y2="63.0" stroke="#007a00" stroke-width="1.4" stroke-dasharray="3.7 4.4"/>
<text x="449.4" y="65.3" font-family="Liberation Sans" font-size="7.75" fill="#1a1a1a">r=5.0 mm-formula</text>
<rect x="309.4" y="17.4" width="221.3" height="163.6" fill="none" stroke="#3a3a3a" stroke-width="1.15"/>
<line x1="314.6" y1="51.5" x2="314.6" y2="214" stroke="#000" stroke-width="1.4"/>
<line x1="354.8" y1="49" x2="354.8" y2="202.5" stroke="#000" stroke-width="1.4"/>
<line x1="365.4" y1="78" x2="365.4" y2="214" stroke="#000" stroke-width="1.4"/>
<line x1="316.6" y1="196.0" x2="352.8" y2="196.0" stroke="#000" stroke-width="1"/><polygon points="314.6,196.0 318.1,194.2 318.1,197.8" fill="#000"/><polygon points="354.8,196.0 351.3,194.2 351.3,197.8" fill="#000"/>
<line x1="316.6" y1="210.9" x2="363.4" y2="210.9" stroke="#000" stroke-width="1"/><polygon points="314.6,210.9 318.1,209.1 318.1,212.70000000000002" fill="#000"/><polygon points="365.4,210.9 361.9,209.1 361.9,212.70000000000002" fill="#000"/>
<text x="319" y="205.6" font-family="Liberation Serif" font-style="italic" font-size="10" fill="#111">δ</text>
<text x="323.9" y="206.6" font-family="Liberation Serif" font-style="italic" font-weight="bold" font-size="6.4" letter-spacing="0.45" fill="#222">r=5.0mm</text>
<text x="325.0" y="219.8" font-family="Liberation Serif" font-style="italic" font-size="10" fill="#111">δ</text>
<text x="330.0" y="220.5" font-family="Liberation Serif" font-style="italic" font-weight="bold" font-size="6.4" letter-spacing="0.35" fill="#222">r=1.5mm</text>
</svg>
</body></html>
